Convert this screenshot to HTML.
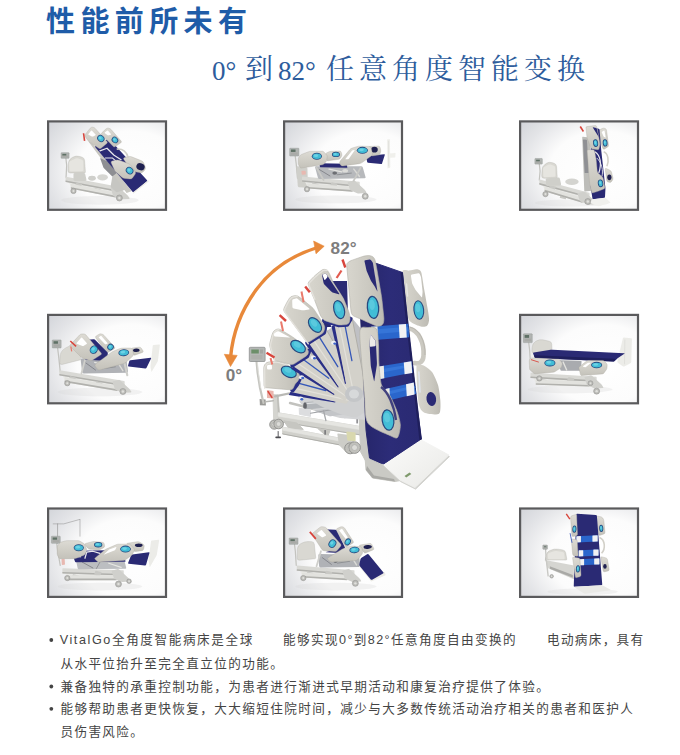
<!DOCTYPE html>
<html lang="zh"><head><meta charset="utf-8"><title>性能前所未有</title>
<style>
html,body{margin:0;padding:0;background:#fff}
body{width:680px;height:755px;position:relative;overflow:hidden;font-family:"Liberation Sans","Noto Sans CJK SC",sans-serif}
.art{position:absolute;left:0;top:0;width:680px;height:755px;display:block}
</style></head><body>
<svg class="art" viewBox="0 0 680 755" width="680" height="755">
<defs>
<radialGradient id="tbg" cx="0.7" cy="0.56" r="0.9">
<stop offset="0" stop-color="#fff"/><stop offset="0.5" stop-color="#fcfcfc"/><stop offset="0.78" stop-color="#e3e4e7"/><stop offset="1" stop-color="#d2d4d9"/></radialGradient>
<linearGradient id="trail" x1="0" y1="0" x2="0" y2="1"><stop offset="0" stop-color="#dddbd4"/><stop offset="1" stop-color="#c4c2ba"/></linearGradient>
<linearGradient id="railg" x1="0" y1="0" x2="1" y2="0">
<stop offset="0" stop-color="#d8d6ce"/><stop offset="0.6" stop-color="#cbc9c1"/><stop offset="1" stop-color="#bdbbb3"/></linearGradient>
<linearGradient id="navg" x1="0" y1="0" x2="1" y2="0">
<stop offset="0" stop-color="#252568"/><stop offset="0.5" stop-color="#2c2c78"/><stop offset="1" stop-color="#2a2a72"/></linearGradient>
<linearGradient id="footg" x1="0" y1="0" x2="1" y2="1">
<stop offset="0" stop-color="#fbfbfa"/><stop offset="1" stop-color="#e9e9e6"/></linearGradient>
</defs>
<text x="46" y="32" font-family="'Liberation Sans','Noto Sans CJK SC',sans-serif" font-weight="bold" font-size="29" letter-spacing="5.4" fill="#1f5ca8">性能前所未有</text>
<g fill="#2d5c9c" font-family="'Liberation Serif','Noto Serif CJK SC',serif">
<text x="212" y="79.5" font-size="27">0°</text>
<text x="245" y="78.5" font-size="28">到</text>
<text x="278" y="79.5" font-size="27">82°</text>
<text x="326" y="78.5" font-size="28" letter-spacing="5">任意角度智能变换</text>
</g>
<rect x="48.1" y="121.39999999999999" width="117.89999999999999" height="88.39999999999999" fill="url(#tbg)" stroke="#5a5a5c" stroke-width="2.2"/>
<g transform="translate(47 120.0) scale(0.17647)"><ellipse cx="300" cy="455" rx="220" ry="25" fill="#d4d4d4" opacity="0.28"/><polyline points="107,217 111.5,257 108,325" fill="none" stroke="#c3c3bf" stroke-width="7" stroke-linecap="round" stroke-linejoin="round"/><rect x="80" y="185" width="45" height="32" rx="3" fill="#b1b4b2" stroke="#8f9290" stroke-width="2.5"/><rect x="87" y="192" width="22.5" height="10.24" fill="#5f7166"/><rect x="87" y="202.6" width="31" height="9.6" fill="#a9aaa7"/><path d="M132,300Q118,300 118.7,286L120.8,247.4Q122,225 141.3,213.8L145.8,211.2Q165,200 186.2,206.8L198.7,210.7Q212,215 213,229L217.6,294Q218,300 212,300Z" fill="#d9d8d2" stroke="#b3b2ac" stroke-width="2"/><path d="M125.3,243Q125,235 132.3,231.8L162.7,218.2Q170,215 177.5,217.8L197.5,225.2Q205,228 205.3,236L206.7,282Q207,290 199,290.2L135,291.8Q127,292 126.7,284Z" fill="#e6e5e0"/><path d="M116.2,337.7Q115,335 117.9,335.6L422.1,394.4Q425,395 422.8,397.1L387.2,430.9Q385,433 382.1,432.4L139.9,383.6Q137,383 135.8,380.3Z" fill="#e9e9e6"/><path d="M105,324Q105,321 107.9,321.6L427.1,382.4Q430,383 430,386L430,410Q430,413 427.1,412.4L107.9,351.6Q105,351 105,348Z" fill="#d9d9d5"/><path d="M105,344Q105,342 107,342.4L428,403.6Q430,404 430,406L430,411Q430,413 428,412.6L107,351.4Q105,351 105,349Z" fill="#b1b1ad"/><path d="M163.8,357.8Q165,355 167.9,355.7L197.1,362.3Q200,363 198.8,365.8L191.2,384.2Q190,387 187.1,386.3L157.9,379.7Q155,379 156.2,376.2Z" fill="#c9c9c5"/><path d="M268.9,387.8Q270,385 272.9,385.7L302.1,392.3Q305,393 304,395.8L296,417.2Q295,420 292.1,419.3L262.9,411.7Q260,411 261.1,408.2Z" fill="#c9c9c5"/><path d="M135,364Q135,361 137.9,361.6L387.1,410.4Q390,411 390,414L390,436Q390,439 387.1,438.4L137.9,389.6Q135,389 135,386Z" fill="#e2e2de"/><path d="M135,382Q135,380 137,380.4L388,429.6Q390,430 390,432L390,437Q390,439 388,438.6L137,389.4Q135,389 135,387Z" fill="#b1b1ad"/><path d="M361.6,389.7Q360,385 364.9,383.8L395.1,376.2Q400,375 403.7,378.4L456.3,426.6Q460,430 462.5,434.3L467.5,442.7Q470,447 465,447.3L425,449.7Q420,450 415.4,448L379.6,432Q375,430 373.4,425.3Z" fill="#d0d0cc"/><ellipse cx="150" cy="402" rx="15" ry="15" fill="#bcbcb8" stroke="#8f8f8c" stroke-width="3"/><ellipse cx="150" cy="402" rx="6" ry="6" fill="#e0e0dc"/><ellipse cx="410" cy="442" rx="17" ry="17" fill="#bcbcb8" stroke="#8f8f8c" stroke-width="3"/><ellipse cx="410" cy="442" rx="6.8" ry="6.8" fill="#e0e0dc"/><path d="M150,308Q150,300 158,300L207,300Q215,300 216.7,307.8L223.3,337.2Q225,345 217,345L158,345Q150,345 150,337Z" fill="#cfcfca"/><ellipse cx="255" cy="330" rx="22" ry="14" fill="#cfcfcb"/><ellipse cx="315" cy="325" rx="30" ry="18" fill="#d6d6d2"/><path d="M374,295.9Q375,290 380.9,291.3L414.1,298.7Q420,300 421.5,305.8L443.5,389.2Q445,395 439.3,396.7L400.7,408.3Q395,410 390.4,406.1L364.6,383.9Q360,380 361,374.1Z" fill="#c6c6c2"/><path d="M233.8,120.4Q232,118 234.5,119.7L259.5,136.3Q262,138 263.9,140.3L478.1,400.7Q480,403 477.2,404.1L454.8,412.9Q452,414 450.2,411.6Z" fill="#c9c8c2"/><path d="M301.4,218.8Q300,215 303.7,216.6L341.3,233.4Q345,235 347.4,238.2L392.6,296.8Q395,300 391.9,302.5L373.1,317.5Q370,320 367.2,317.2L322.8,272.8Q320,270 318.6,266.2Z" fill="#8e8f93"/><path d="M273.9,154.6Q270,150 275.2,147.1L344.8,107.9Q350,105 354.1,109.4L565.9,340.6Q570,345 565.4,348.9L494.6,408.1Q490,412 486.1,407.4Z" fill="#2a2a74"/><polyline points="300,175 340,160 380,200 420,225" fill="none" stroke="#e9e9ee" stroke-width="7" stroke-linecap="round" stroke-linejoin="round"/><polyline points="330,215 370,215 410,250" fill="none" stroke="#e9e9ee" stroke-width="6" stroke-linecap="round" stroke-linejoin="round"/><path d="M435.5,223.3Q430,215 439.7,212.6L460.3,207.4Q470,205 479.3,208.7L535.7,231.3Q545,235 548.5,244.4L556.5,265.6Q560,275 553.8,282.8L546.2,292.2Q540,300 530.1,298.4L489.9,291.6Q480,290 474.5,281.7Z" fill="url(#trail)" stroke="#a9a79f" stroke-width="2"/><ellipse cx="530" cy="265" rx="24" ry="20" fill="#1f2050" transform="rotate(20 530 265)"/><path d="M395,165 C430,160 455,185 460,215" fill="none" stroke="#d2d0c8" stroke-width="9"/><path d="M310.6,83.7Q305,78 310.8,72.5L334.2,50.5Q340,45 347.9,46.3L350.1,46.7Q358,48 363.3,54L419.7,119Q425,125 418.3,129.4L386.7,150.6Q380,155 374.4,149.3Z" fill="url(#trail)" stroke="#a9a79f" stroke-width="2"/><path d="M328.1,74.5Q325,72 328.2,69.5L339.8,60.5Q343,58 345.7,60.9L362.3,79.1Q365,82 361.2,83.1L348.8,86.9Q345,88 341.9,85.5Z" fill="#fff"/><ellipse cx="385" cy="113" rx="19.8" ry="17.1" fill="#27497f" transform="rotate(40 385 113)"/><ellipse cx="385" cy="113" rx="15.3" ry="12.6" fill="#42bdd6" transform="rotate(40 385 113)"/><ellipse cx="381.9" cy="110.5" rx="7.7" ry="6.3" fill="#8be0ee" transform="rotate(40 381.9 110.5)" opacity="0.6"/><path d="M216.7,94.5Q212,88 217,81.7L245,46.3Q250,40 258,40.9L260,41.1Q268,42 273.3,48L339.7,122Q345,128 338.8,133.1L306.2,159.9Q300,165 293.4,160.4L241.6,124.6Q235,120 230.3,113.5Z" fill="url(#trail)" stroke="#a9a79f" stroke-width="2"/><path d="M235.6,83.8Q232,82 234.6,78.9L249.4,61.1Q252,58 254.8,60.9L275.2,82.1Q278,85 274.4,86.8L261.6,93.2Q258,95 254.4,93.2Z" fill="#fff"/><ellipse cx="305" cy="105" rx="21.6" ry="18.9" fill="#27497f" transform="rotate(40 305 105)"/><ellipse cx="305" cy="105" rx="17.1" ry="14.4" fill="#42bdd6" transform="rotate(40 305 105)"/><ellipse cx="301.6" cy="102.1" rx="8.6" ry="7.2" fill="#8be0ee" transform="rotate(40 301.6 102.1)" opacity="0.6"/><path d="M364.1,244.1Q360,235 369.7,232.6L390.3,227.4Q400,225 409.4,228.4L460.6,246.6Q470,250 475.7,258.2L499.3,291.8Q505,300 499.2,308.1L485.8,326.9Q480,335 470,334L440,331Q430,330 422.5,323.4L392.5,296.6Q385,290 380.9,280.9Z" fill="url(#trail)" stroke="#a9a79f" stroke-width="2"/><ellipse cx="468" cy="287" rx="22.5" ry="19.8" fill="#27497f" transform="rotate(40 468 287)"/><ellipse cx="468" cy="287" rx="18" ry="15.3" fill="#42bdd6" transform="rotate(40 468 287)"/><ellipse cx="464.4" cy="283.9" rx="9" ry="7.7" fill="#8be0ee" transform="rotate(40 464.4 283.9)" opacity="0.6"/><polyline points="490,412 572,347" fill="none" stroke="#ecebe6" stroke-width="8" stroke-linecap="round" stroke-linejoin="round"/><polyline points="207,75 213,118" fill="none" stroke="#d8453c" stroke-width="9" stroke-linecap="butt" stroke-linejoin="round"/></g>
<rect x="284.1" y="121.39999999999999" width="117.89999999999999" height="88.39999999999999" fill="url(#tbg)" stroke="#5a5a5c" stroke-width="2.2"/>
<g transform="translate(283 120.0) scale(0.17647)"><ellipse cx="300" cy="450" rx="230" ry="22" fill="#d4d4d4" opacity="0.28"/><polyline points="69.2,204 74.4,244 82,330" fill="none" stroke="#c3c3bf" stroke-width="7" stroke-linecap="round" stroke-linejoin="round"/><rect x="38" y="160" width="52" height="44" rx="3" fill="#b1b4b2" stroke="#8f9290" stroke-width="2.5"/><rect x="45" y="167" width="26.0" height="14.08" fill="#5f7166"/><rect x="45" y="184.2" width="38" height="13.2" fill="#a9aaa7"/><path d="M76.4,268Q76,262 82,262.6L132,267.4Q138,268 138.2,274L141.8,379Q142,385 136,384.5L90,380.5Q84,380 83.6,374Z" fill="#cfcfca"/><path d="M119.2,336.7Q118,334 121,334.3L427,361.7Q430,362 427.8,364.1L392.2,397.9Q390,400 387,399.8L143,382.2Q140,382 138.8,379.3Z" fill="#e9e9e6"/><path d="M108,323Q108,320 111,320.3L432,349.7Q435,350 435,353L435,377Q435,380 432,379.7L111,350.3Q108,350 108,347Z" fill="#d9d9d5"/><path d="M108,343Q108,341 110,341.2L433,370.8Q435,371 435,373L435,378Q435,380 433,379.8L110,350.2Q108,350 108,348Z" fill="#b1b1ad"/><path d="M166.8,356.8Q168,354 170.9,354.7L200.1,361.3Q203,362 201.8,364.8L194.2,383.2Q193,386 190.1,385.3L160.9,378.7Q158,378 159.2,375.2Z" fill="#c9c9c5"/><path d="M273.9,354.8Q275,352 277.9,352.7L307.1,359.3Q310,360 309,362.8L301,384.2Q300,387 297.1,386.3L267.9,378.7Q265,378 266.1,375.2Z" fill="#c9c9c5"/><path d="M138,363Q138,360 141,360.2L392,377.8Q395,378 395,381L395,403Q395,406 392,405.8L141,388.2Q138,388 138,385Z" fill="#e2e2de"/><path d="M138,381Q138,379 140,379.1L393,396.9Q395,397 395,399L395,404Q395,406 393,405.9L140,388.1Q138,388 138,386Z" fill="#b1b1ad"/><path d="M366.6,356.7Q365,352 369.9,350.8L400.1,343.2Q405,342 408.7,345.4L461.3,393.6Q465,397 467.5,401.3L472.5,409.7Q475,414 470,414.3L430,416.7Q425,417 420.4,415L384.6,399Q380,397 378.4,392.3Z" fill="#d0d0cc"/><ellipse cx="136" cy="392" rx="15" ry="15" fill="#bcbcb8" stroke="#8f8f8c" stroke-width="3"/><ellipse cx="136" cy="392" rx="6" ry="6" fill="#e0e0dc"/><ellipse cx="466" cy="432" rx="17" ry="17" fill="#bcbcb8" stroke="#8f8f8c" stroke-width="3"/><ellipse cx="466" cy="432" rx="6.8" ry="6.8" fill="#e0e0dc"/><path d="M182.1,269.7Q180,262 188,262L442,262Q450,262 452.3,269.7L467.7,322.3Q470,330 462,330.1L208,334.9Q200,335 197.9,327.3Z" fill="#b7b9bc"/><path d="M104.3,291Q104,288 107,287.9L125,287.1Q128,287 128.3,290L129.7,305Q130,308 127,308.2L109,309.8Q106,310 105.7,307Z" fill="#e8b8b0"/><polyline points="206.6,281.2 266,317" fill="none" stroke="#7f8186" stroke-width="5" stroke-linecap="round" stroke-linejoin="round"/><polyline points="260.6,278 333.5,294.2" fill="none" stroke="#e4e4e1" stroke-width="7" stroke-linecap="round" stroke-linejoin="round"/><polyline points="306.5,310.5 387.5,300.8" fill="none" stroke="#8a8c90" stroke-width="5" stroke-linecap="round" stroke-linejoin="round"/><ellipse cx="293" cy="300.8" rx="13.5" ry="9.1" fill="#6d6f74"/><ellipse cx="352.4" cy="287.8" rx="16.2" ry="10.4" fill="#dcdcd9"/><polyline points="401,278 433.4,320.2" fill="none" stroke="#dadad6" stroke-width="8" stroke-linecap="round" stroke-linejoin="round"/><polyline points="190,270 230,340" fill="none" stroke="#c9c9c5" stroke-width="10" stroke-linecap="round" stroke-linejoin="round"/><polyline points="440,270 400,345" fill="none" stroke="#c9c9c5" stroke-width="10" stroke-linecap="round" stroke-linejoin="round"/><path d="M590,113Q590,110 593,109.6L603,108.4Q606,108 606,111L608,267Q608,270 605.1,270.9L594.9,274.1Q592,275 592,272Z" fill="#eeeeea"/><polyline points="598,120 598,260" fill="none" stroke="#cfcfcb" stroke-width="2" stroke-linecap="round" stroke-linejoin="round"/><path d="M600.2,193Q600,190 603,189.7L635,186.3Q638,186 637.8,189L636.2,209Q636,212 633,212.2L605,213.8Q602,214 601.8,211Z" fill="#f0f0ec"/><path d="M205.6,247.9Q205,245 208,245.1L357,247.9Q360,248 360.7,250.9L364.3,267.1Q365,270 362,270L213,268Q210,268 209.4,265.1Z" fill="#2a2a74"/><path d="M470.8,208.9Q470,205 474,204.6L574,194.4Q578,194 576.8,197.8L561.2,246.2Q560,250 556,249.6L482,242.4Q478,242 477.2,238.1Z" fill="#2a2a74"/><path d="M241.5,197.9Q240,190 247.2,186.5L257.8,181.5Q265,178 273,177.7L320,176.3Q328,176 330.2,183.7L332.8,192.3Q335,200 330.9,206.9L326.1,215.1Q322,222 314.1,223.1L255.9,230.9Q248,232 246.5,224.1Z" fill="url(#trail)" stroke="#a9a79f" stroke-width="2"/><ellipse cx="300" cy="195" rx="22.5" ry="15.3" fill="#27497f"/><ellipse cx="300" cy="195" rx="18" ry="10.8" fill="#42bdd6"/><ellipse cx="296.4" cy="192.8" rx="9" ry="5.4" fill="#8be0ee" opacity="0.6"/><path d="M487.1,157.7Q485,150 493,149.7L540,148.3Q548,148 550,155.7L553,167.3Q555,175 552.7,182.7L550.3,190.3Q548,198 540.1,199L507.9,203Q500,204 497.9,196.3Z" fill="url(#trail)" stroke="#a9a79f" stroke-width="2"/><ellipse cx="518" cy="168" rx="19" ry="16" fill="#1f2050"/><path d="M87,220Q87,215 89.9,210.9L97.1,201.1Q100,197 104.7,195.2L145.3,179.8Q150,178 155,177.9L223,177.1Q228,177 231.3,180.7L248.7,200.3Q252,204 251,208.9L247,229.1Q246,234 242.6,237.6L231.4,249.4Q228,253 223.1,253.8L104.9,272.2Q100,273 97.4,268.7L89.6,256.3Q87,252 87,247Z" fill="url(#trail)" stroke="#a9a79f" stroke-width="2"/><ellipse cx="192" cy="205" rx="28.8" ry="19.8" fill="#27497f"/><ellipse cx="192" cy="205" rx="24.3" ry="15.3" fill="#42bdd6"/><ellipse cx="187.1" cy="201.9" rx="12.2" ry="7.7" fill="#8be0ee" opacity="0.6"/><path d="M322.8,248.8Q318,240 324.4,232.3L376.6,169.7Q383,162 392.5,159L418.5,151Q428,148 438,148.3L488,149.7Q498,150 500,159.8L506,188.2Q508,198 499.9,203.9L450.1,240.1Q442,246 432.1,247.4L339.9,260.6Q330,262 325.2,253.2Z" fill="url(#trail)" stroke="#a9a79f" stroke-width="2"/><path d="M356,222Q352,222 354.5,218.9L389.5,175.1Q392,172 396,171.5L404,170.5Q408,170 405.7,173.3L374.3,218.7Q372,222 368,222Z" fill="#fff"/><ellipse cx="450" cy="172" rx="31.5" ry="19.8" fill="#27497f"/><ellipse cx="450" cy="172" rx="27" ry="15.3" fill="#42bdd6"/><ellipse cx="444.6" cy="168.9" rx="13.5" ry="7.7" fill="#8be0ee" opacity="0.6"/></g>
<rect x="520.1" y="121.39999999999999" width="117.89999999999999" height="88.39999999999999" fill="url(#tbg)" stroke="#5a5a5c" stroke-width="2.2"/>
<g transform="translate(519 120.0) scale(0.17647)"><ellipse cx="300" cy="470" rx="210" ry="20" fill="#d4d4d4" opacity="0.28"/><polyline points="115.2,250 119.4,290 115,340" fill="none" stroke="#c3c3bf" stroke-width="7" stroke-linecap="round" stroke-linejoin="round"/><rect x="90" y="218" width="42" height="32" rx="3" fill="#b1b4b2" stroke="#8f9290" stroke-width="2.5"/><rect x="97" y="225" width="21.0" height="10.24" fill="#5f7166"/><rect x="97" y="235.6" width="28" height="9.6" fill="#a9aaa7"/><path d="M142,330Q128,330 128.8,316L130.8,282.9Q132,262 149.1,249.8L153.6,246.6Q170,235 188.9,241.8L198.8,245.3Q212,250 212.9,264L216.6,324Q217,330 211,330Z" fill="#d9d8d2" stroke="#b3b2ac" stroke-width="2"/><path d="M136.3,278Q136,270 143,266.1L165,253.9Q172,250 179.5,252.7L197.5,259.3Q205,262 205.3,270L206.7,314Q207,322 199,322.2L146,323.8Q138,324 137.7,316Z" fill="#e6e5e0"/><path d="M126.2,352.7Q125,350 127.9,350.8L392.1,424.2Q395,425 392.8,427.1L357.2,460.9Q355,463 352.1,462.1L149.9,398.9Q147,398 145.8,395.3Z" fill="#e9e9e6"/><path d="M115,339Q115,336 117.9,336.8L397.1,412.2Q400,413 400,416L400,440Q400,443 397.1,442.2L117.9,366.8Q115,366 115,363Z" fill="#d9d9d5"/><path d="M115,359Q115,357 116.9,357.5L398.1,433.5Q400,434 400,436L400,441Q400,443 398.1,442.5L116.9,366.5Q115,366 115,364Z" fill="#b1b1ad"/><path d="M173.8,372.8Q175,370 177.9,370.7L207.1,377.3Q210,378 208.8,380.8L201.2,399.2Q200,402 197.1,401.3L167.9,394.7Q165,394 166.2,391.2Z" fill="#c9c9c5"/><path d="M238.9,417.8Q240,415 242.9,415.7L272.1,422.3Q275,423 274,425.8L266,447.2Q265,450 262.1,449.3L232.9,441.7Q230,441 231.1,438.2Z" fill="#c9c9c5"/><path d="M145,379Q145,376 147.9,376.9L357.1,440.1Q360,441 360,444L360,466Q360,469 357.1,468.1L147.9,404.9Q145,404 145,401Z" fill="#e2e2de"/><path d="M145,397Q145,395 146.9,395.6L358.1,459.4Q360,460 360,462L360,467Q360,469 358.1,468.4L146.9,404.6Q145,404 145,402Z" fill="#b1b1ad"/><path d="M331.6,419.7Q330,415 334.9,413.8L365.1,406.2Q370,405 373.7,408.4L426.3,456.6Q430,460 432.5,464.3L437.5,472.7Q440,477 435,477.3L395,479.7Q390,480 385.4,478L349.6,462Q345,460 343.4,455.3Z" fill="#d0d0cc"/><ellipse cx="150" cy="420" rx="15" ry="15" fill="#bcbcb8" stroke="#8f8f8c" stroke-width="3"/><ellipse cx="150" cy="420" rx="6" ry="6" fill="#e0e0dc"/><ellipse cx="390" cy="462" rx="17" ry="17" fill="#bcbcb8" stroke="#8f8f8c" stroke-width="3"/><ellipse cx="390" cy="462" rx="6.8" ry="6.8" fill="#e0e0dc"/><path d="M150.9,338Q150,330 158,329.5L222,325.5Q230,325 231.7,332.8L238.3,362.2Q240,370 232,370.5L163,374.5Q155,375 154.1,367Z" fill="#cfcfca"/><ellipse cx="300" cy="350" rx="38" ry="18" fill="#d4d4d0"/><path d="M358.2,99Q358,95 362,95.5L396,99.5Q400,100 400.2,104L414.8,396Q415,400 411,400.4L374,404.6Q370,405 369.8,401Z" fill="#bdbdb9"/><path d="M362.2,113Q362,110 365,110.3L382,111.7Q385,112 385.2,115L394.8,297Q395,300 392,300L375,300Q372,300 371.8,297Z" fill="#8f9094"/><path d="M453,65.9Q452,58 459.2,54.4L470.9,48.6Q478,45 485.6,47.2L487.4,47.8Q495,50 496,57.9L507,142.1Q508,150 501.1,154.1L484.9,163.9Q478,168 475.2,160.5L462.8,127.5Q460,120 459,112.1Z" fill="url(#trail)" stroke="#a9a79f" stroke-width="2"/><path d="M469.2,70.7Q468,68 470.5,66.4L481.5,59.6Q484,58 484.6,60.9L491.4,97.1Q492,100 489.2,98.8L482.8,96.2Q480,95 478.8,92.3Z" fill="#fff"/><ellipse cx="488" cy="130" rx="13.5" ry="20.7" fill="#27497f" transform="rotate(-5 488 130)"/><ellipse cx="488" cy="130" rx="9" ry="16.2" fill="#42bdd6" transform="rotate(-5 488 130)"/><ellipse cx="486.2" cy="126.8" rx="4.5" ry="8.1" fill="#8be0ee" transform="rotate(-5 486.2 126.8)" opacity="0.6"/><path d="M480,180 C505,190 512,230 498,262" fill="none" stroke="#d2d0c8" stroke-width="9"/><path d="M489,279.9Q488,272 495.2,275.4L514.8,284.6Q522,288 524,295.8L532,327.2Q534,335 529.4,341.6L524.6,348.4Q520,355 512.2,353.2L505.8,351.8Q498,350 497,342.1Z" fill="url(#trail)" stroke="#a9a79f" stroke-width="2"/><ellipse cx="512" cy="325" rx="12" ry="16" fill="#1f2050"/><path d="M411.8,45Q412,40 416.9,41.1L451.1,48.9Q456,50 456.4,55L465.6,167Q466,172 466.6,177L489.4,382Q490,387 489.7,392L487.3,437Q487,442 482,442.6L422,449.4Q417,450 416.2,445.1L403.8,363.9Q403,359 403.1,354L404.9,205Q405,200 405.2,195Z" fill="#2a2a74"/><path d="M430,180 C462,200 470,250 452,300" fill="none" stroke="#e9e9ee" stroke-width="7"/><path d="M440,215 C470,240 478,290 470,320" fill="none" stroke="#e9e9ee" stroke-width="5"/><path d="M379.6,44Q379,38 385,37.3L432,31.7Q438,31 439.6,36.8L444.4,54.2Q446,60 447,65.9L458,132.1Q459,138 457.7,143.9L453.3,163.1Q452,169 446.1,168.2L415.9,163.8Q410,163 407.7,157.4L388.3,109.6Q386,104 385.4,98Z" fill="url(#trail)" stroke="#a9a79f" stroke-width="2"/><path d="M418.1,42.7Q417,41 419,41.4L438,45.6Q440,46 440.5,47.9L451.5,95.1Q452,97 450.9,95.3Z" fill="#2a2a74"/><ellipse cx="434" cy="131" rx="14.4" ry="21.6" fill="#27497f" transform="rotate(-8 434 131)"/><ellipse cx="434" cy="131" rx="9.9" ry="17.1" fill="#42bdd6" transform="rotate(-8 434 131)"/><ellipse cx="432" cy="127.6" rx="5" ry="8.6" fill="#8be0ee" transform="rotate(-8 432 127.6)" opacity="0.6"/><path d="M386.6,176Q386,168 394,168.2L419,168.8Q427,169 428.5,176.9L436.5,220.1Q438,228 438.7,236L443.3,289Q444,297 450,302.3L470,319.7Q476,325 477.5,332.9L486.5,379.1Q488,387 480.7,390.3L462.3,398.7Q455,402 447.4,404.4L420.6,412.6Q413,415 411.2,407.2L401.8,366.8Q400,359 399.4,351Z" fill="url(#trail)" stroke="#a9a79f" stroke-width="2"/><ellipse cx="462" cy="359" rx="15.3" ry="21.6" fill="#27497f" transform="rotate(-8 462 359)"/><ellipse cx="462" cy="359" rx="10.8" ry="17.1" fill="#42bdd6" transform="rotate(-8 462 359)"/><ellipse cx="459.8" cy="355.6" rx="5.4" ry="8.6" fill="#8be0ee" transform="rotate(-8 459.8 355.6)" opacity="0.6"/><path d="M411.5,453.7Q413,450 417,449.5L484,440.5Q488,440 491,442.6L517,465.4Q520,468 516.2,469.2L453.8,488.8Q450,490 446.3,488.4L408.7,471.6Q405,470 406.5,466.3Z" fill="#f1f1ee"/><polyline points="347,37 365,65" fill="none" stroke="#d8453c" stroke-width="9" stroke-linecap="butt" stroke-linejoin="round"/></g>
<rect x="48.1" y="314.90000000000003" width="117.89999999999999" height="88.39999999999999" fill="url(#tbg)" stroke="#5a5a5c" stroke-width="2.2"/>
<g transform="translate(47 313.5) scale(0.17647)"><ellipse cx="300" cy="445" rx="240" ry="24" fill="#d4d4d4" opacity="0.28"/><polyline points="60,195 65,235 75,330" fill="none" stroke="#c3c3bf" stroke-width="7" stroke-linecap="round" stroke-linejoin="round"/><rect x="30" y="150" width="50" height="45" rx="3" fill="#b1b4b2" stroke="#8f9290" stroke-width="2.5"/><rect x="37" y="157" width="25.0" height="14.4" fill="#5f7166"/><rect x="37" y="174.75" width="36" height="13.5" fill="#a9aaa7"/><path d="M81.2,337.7Q80,335 83,335.5L432,394.5Q435,395 432.8,397.1L397.2,430.9Q395,433 392,432.5L105,383.5Q102,383 100.8,380.3Z" fill="#e9e9e6"/><path d="M70,324Q70,321 73,321.5L437,382.5Q440,383 440,386L440,410Q440,413 437,412.5L73,351.5Q70,351 70,348Z" fill="#d9d9d5"/><path d="M70,344Q70,342 72,342.3L438,403.7Q440,404 440,406L440,411Q440,413 438,412.7L72,351.3Q70,351 70,349Z" fill="#b1b1ad"/><path d="M128.8,357.8Q130,355 132.9,355.7L162.1,362.3Q165,363 163.8,365.8L156.2,384.2Q155,387 152.1,386.3L122.9,379.7Q120,379 121.2,376.2Z" fill="#c9c9c5"/><path d="M278.9,387.8Q280,385 282.9,385.7L312.1,392.3Q315,393 314,395.8L306,417.2Q305,420 302.1,419.3L272.9,411.7Q270,411 271.1,408.2Z" fill="#c9c9c5"/><path d="M100,364Q100,361 103,361.5L397,410.5Q400,411 400,414L400,436Q400,439 397,438.5L103,389.5Q100,389 100,386Z" fill="#e2e2de"/><path d="M100,382Q100,380 102,380.3L398,429.7Q400,430 400,432L400,437Q400,439 398,438.7L102,389.3Q100,389 100,387Z" fill="#b1b1ad"/><path d="M371.6,389.7Q370,385 374.9,383.8L405.1,376.2Q410,375 413.7,378.4L466.3,426.6Q470,430 472.5,434.3L477.5,442.7Q480,447 475,447.3L435,449.7Q430,450 425.4,448L389.6,432Q385,430 383.4,425.3Z" fill="#d0d0cc"/><ellipse cx="115" cy="395" rx="15" ry="15" fill="#bcbcb8" stroke="#8f8f8c" stroke-width="3"/><ellipse cx="115" cy="395" rx="6" ry="6" fill="#e0e0dc"/><ellipse cx="430" cy="442" rx="17" ry="17" fill="#bcbcb8" stroke="#8f8f8c" stroke-width="3"/><ellipse cx="430" cy="442" rx="6.8" ry="6.8" fill="#e0e0dc"/><path d="M85.6,288.6Q72,292 72.5,278L73.9,244.3Q75,215 99.8,199.2L108.1,193.9Q130,180 155.2,173.7L172.4,169.4Q186,166 186.9,180L191.6,256Q192,262 186.2,263.5Z" fill="#d9d8d2" stroke="#b3b2ac" stroke-width="2"/><path d="M190.9,262.9Q190,255 198,255.2L442,261.8Q450,262 451.1,269.9L458.9,327.1Q460,335 452,335.2L208,339.8Q200,340 199.1,332.1Z" fill="#b0b2b6"/><polyline points="220,280.2 275,320.4" fill="none" stroke="#7f8186" stroke-width="5" stroke-linecap="round" stroke-linejoin="round"/><polyline points="270,276.6 337.5,294.9" fill="none" stroke="#e4e4e1" stroke-width="7" stroke-linecap="round" stroke-linejoin="round"/><polyline points="312.5,313.1 387.5,302.1" fill="none" stroke="#8a8c90" stroke-width="5" stroke-linecap="round" stroke-linejoin="round"/><ellipse cx="300" cy="302.1" rx="12.5" ry="10.2" fill="#6d6f74"/><ellipse cx="355" cy="287.6" rx="15" ry="11.7" fill="#dcdcd9"/><polyline points="400,276.6 430,324.1" fill="none" stroke="#dadad6" stroke-width="8" stroke-linecap="round" stroke-linejoin="round"/><polyline points="215,265 195,340" fill="none" stroke="#cfcfcb" stroke-width="10" stroke-linecap="round" stroke-linejoin="round"/><polyline points="440,285 455,350" fill="none" stroke="#cfcfcb" stroke-width="12" stroke-linecap="round" stroke-linejoin="round"/><path d="M599.5,182Q600,178 604,177.8L636,176.2Q640,176 639.5,180L628.5,268Q628,272 625.9,275.4L594.1,328.6Q592,332 591.3,328.1L586.7,303.9Q586,300 586.5,296Z" fill="#ecece8"/><path d="M466.6,269.8Q468,265 473,264.4L587,250.6Q592,250 589.8,254.5L564.2,307.5Q562,312 557,311.4L463,300.6Q458,300 459.4,295.2Z" fill="#2a2a74"/><path d="M480.5,203.6Q478,196 485.9,195.1L522.1,190.9Q530,190 534.3,196.7L543.7,211.3Q548,218 540.5,220.7L499.5,235.3Q492,238 489.5,230.4Z" fill="url(#trail)" stroke="#a9a79f" stroke-width="2"/><ellipse cx="506" cy="208" rx="19" ry="10" fill="#1f2050" transform="rotate(-5 506 208)"/><path d="M276.8,138.4Q272,132 278.7,127.7L293.3,118.3Q300,114 307.8,115.7L310.2,116.3Q318,118 323.3,124L382.7,190Q388,196 381.1,200L346.9,220Q340,224 335.2,217.6Z" fill="url(#trail)" stroke="#a9a79f" stroke-width="2"/><path d="M294.1,137.2Q292,135 294.5,133.4L303.5,127.6Q306,126 308,128.2L343,167.8Q345,170 342.2,170.9L332.8,174.1Q330,175 327.9,172.8Z" fill="#fff"/><ellipse cx="360" cy="190" rx="18" ry="18.9" fill="#27497f" transform="rotate(40 360 190)"/><ellipse cx="360" cy="190" rx="13.5" ry="14.4" fill="#42bdd6" transform="rotate(40 360 190)"/><ellipse cx="357.3" cy="187.1" rx="6.8" ry="7.2" fill="#8be0ee" transform="rotate(40 357.3 187.1)" opacity="0.6"/><path d="M207.1,153.4Q205,150 209,149.7L264,145.3Q268,145 270.8,147.8L342.2,219.2Q345,222 344.6,226L340.4,264Q340,268 336,267.8L219,262.2Q215,262 218.1,259.5L251.9,232.5Q255,230 252.9,226.6Z" fill="#2a2a74"/><path d="M133.7,187.7Q128,182 133.5,176.2L184.5,121.8Q190,116 198,116L208,116Q216,116 221.2,122.1L306.8,223.9Q312,230 305.2,234.3L258.8,263.7Q252,268 244.3,265.7L205.7,254.3Q198,252 192.3,246.3Z" fill="url(#trail)" stroke="#a9a79f" stroke-width="2"/><path d="M168.7,171.4Q165,170 167.7,167L193.3,138Q196,135 198.7,138L225.3,167Q228,170 224.6,172.2L208.4,182.8Q205,185 201.3,183.6Z" fill="#fff"/><ellipse cx="265" cy="205" rx="21.6" ry="25.2" fill="#27497f" transform="rotate(40 265 205)"/><ellipse cx="265" cy="205" rx="17.1" ry="20.7" fill="#42bdd6" transform="rotate(40 265 205)"/><ellipse cx="261.6" cy="200.9" rx="8.6" ry="10.3" fill="#8be0ee" transform="rotate(40 261.6 200.9)" opacity="0.6"/><path d="M273.9,300.1Q268,292 276,286L362,222Q370,216 379.3,212.3L410.7,199.7Q420,196 430,196L472,196Q482,196 484.4,205.7L489.6,226.3Q492,236 484.6,242.8L449.4,275.2Q442,282 432.3,284.5L299.7,319.5Q290,322 284.1,313.9Z" fill="url(#trail)" stroke="#a9a79f" stroke-width="2"/><ellipse cx="435" cy="222" rx="30.6" ry="19.8" fill="#27497f" transform="rotate(-5 435 222)"/><ellipse cx="435" cy="222" rx="26.1" ry="15.3" fill="#42bdd6" transform="rotate(-5 435 222)"/><ellipse cx="429.8" cy="218.9" rx="13.1" ry="7.7" fill="#8be0ee" transform="rotate(-5 429.8 218.9)" opacity="0.6"/><polyline points="132,156 165,186" fill="none" stroke="#d8453c" stroke-width="9" stroke-linecap="butt" stroke-linejoin="round"/><polyline points="135,188 140,215" fill="none" stroke="#e9796b" stroke-width="7" stroke-linecap="butt" stroke-linejoin="round"/></g>
<rect x="520.1" y="314.90000000000003" width="117.89999999999999" height="88.39999999999999" fill="url(#tbg)" stroke="#5a5a5c" stroke-width="2.2"/>
<g transform="translate(519 313.5) scale(0.17647)"><ellipse cx="290" cy="430" rx="240" ry="22" fill="#d4d4d4" opacity="0.28"/><polyline points="55,165 60,205 65,285" fill="none" stroke="#c3c3bf" stroke-width="7" stroke-linecap="round" stroke-linejoin="round"/><rect x="25" y="115" width="50" height="50" rx="3" fill="#b1b4b2" stroke="#8f9290" stroke-width="2.5"/><rect x="32" y="122" width="25.0" height="16.0" fill="#5f7166"/><rect x="32" y="142.5" width="36" height="15.0" fill="#a9aaa7"/><path d="M86,225Q72,225 73,211L74.5,190.8Q76,170 93.5,158.8L97.5,156.2Q115,145 135.4,149.4L171.3,157.1Q185,160 185.6,174L187.7,219Q188,225 182,225Z" fill="#d9d8d2" stroke="#b3b2ac" stroke-width="2"/><path d="M76.2,352.7Q75,350 78,350.2L432,369.8Q435,370 432.8,372.1L397.2,405.9Q395,408 392,407.9L100,398.1Q97,398 95.8,395.3Z" fill="#e9e9e6"/><path d="M65,339Q65,336 68,336.2L437,357.8Q440,358 440,361L440,385Q440,388 437,387.8L68,366.2Q65,366 65,363Z" fill="#d9d9d5"/><path d="M65,359Q65,357 67,357.1L438,378.9Q440,379 440,381L440,386Q440,388 438,387.9L67,366.1Q65,366 65,364Z" fill="#b1b1ad"/><path d="M123.8,372.8Q125,370 127.9,370.7L157.1,377.3Q160,378 158.8,380.8L151.2,399.2Q150,402 147.1,401.3L117.9,394.7Q115,394 116.2,391.2Z" fill="#c9c9c5"/><path d="M278.9,362.8Q280,360 282.9,360.7L312.1,367.3Q315,368 314,370.8L306,392.2Q305,395 302.1,394.3L272.9,386.7Q270,386 271.1,383.2Z" fill="#c9c9c5"/><path d="M95,379Q95,376 98,376.1L397,385.9Q400,386 400,389L400,411Q400,414 397,413.9L98,404.1Q95,404 95,401Z" fill="#e2e2de"/><path d="M95,397Q95,395 97,395.1L398,404.9Q400,405 400,407L400,412Q400,414 398,413.9L97,404.1Q95,404 95,402Z" fill="#b1b1ad"/><path d="M371.6,364.7Q370,360 374.9,358.8L405.1,351.2Q410,350 413.7,353.4L466.3,401.6Q470,405 472.5,409.3L477.5,417.7Q480,422 475,422.3L435,424.7Q430,425 425.4,423L389.6,407Q385,405 383.4,400.3Z" fill="#d0d0cc"/><ellipse cx="115" cy="368" rx="15" ry="15" fill="#bcbcb8" stroke="#8f8f8c" stroke-width="3"/><ellipse cx="115" cy="368" rx="6" ry="6" fill="#e0e0dc"/><ellipse cx="440" cy="440" rx="17" ry="17" fill="#bcbcb8" stroke="#8f8f8c" stroke-width="3"/><ellipse cx="440" cy="440" rx="6.8" ry="6.8" fill="#e0e0dc"/><ellipse cx="405" cy="395" rx="14" ry="14" fill="#bcbcb8" stroke="#8f8f8c" stroke-width="3"/><ellipse cx="405" cy="395" rx="5.6" ry="5.6" fill="#e0e0dc"/><path d="M226,270.9Q225,265 231,265.1L349,267.9Q355,268 354.5,274L350.5,319Q350,325 344,325L241,325Q235,325 234,319.1Z" fill="#a9abaf"/><polyline points="250,275 270,320" fill="none" stroke="#e2e2de" stroke-width="8" stroke-linecap="round" stroke-linejoin="round"/><path d="M588.8,140.9Q590,136 595,136.4L635,139.6Q640,140 639.9,145L636.1,275Q636,280 631.5,282.2L596.5,299.8Q592,302 587.9,299.1L560.1,278.9Q556,276 557.2,271.1Z" fill="#ecece8"/><polyline points="600,150 598,285" fill="none" stroke="#cfcfcb" stroke-width="2.5" stroke-linecap="round" stroke-linejoin="round"/><path d="M80.2,227.6Q78,222 83.9,221.1L179.1,205.9Q185,205 191,205.3L596,224.7Q602,225 597,228.4L561,252.6Q556,256 551.8,260.2L544.2,267.8Q540,272 534,271.7L96,252.3Q90,252 87.8,246.4Z" fill="#2a2a74"/><path d="M85.9,238.9Q85,236 88,236.1L542,255.9Q545,256 544.1,258.9L540.9,269.1Q540,272 537,271.9L93,252.1Q90,252 89.1,249.1Z" fill="#1f1f5c"/><path d="M58.2,268Q58,262 62.6,258.2L65.4,255.8Q70,252 76,252.3L222,258.7Q228,259 231.6,263.8L242.4,278.2Q246,283 244.5,288.8L241.5,300.2Q240,306 235,309.3L205,328.7Q200,332 194,332.5L94,341.5Q88,342 83.4,338.1L64.6,321.9Q60,318 59.8,312Z" fill="url(#trail)" stroke="#a9a79f" stroke-width="2"/><polyline points="70,262 110,275" fill="none" stroke="#d8453c" stroke-width="5" stroke-linecap="round" stroke-linejoin="round"/><ellipse cx="175" cy="280" rx="31.5" ry="19.8" fill="#27497f"/><ellipse cx="175" cy="280" rx="27" ry="15.3" fill="#42bdd6"/><ellipse cx="169.6" cy="276.9" rx="13.5" ry="7.7" fill="#8be0ee" opacity="0.6"/><path d="M339.5,310.8Q338,305 342.7,301.3L383.3,269.7Q388,266 394,266L474,266Q480,266 484,270.4L496,283.6Q500,288 499.5,294L498.5,308Q498,314 494.5,318.9L481.5,337.1Q478,342 472,342.5L356,351.5Q350,352 348.5,346.2Z" fill="url(#trail)" stroke="#a9a79f" stroke-width="2"/><path d="M363.9,301.1Q360,300 363.3,297.7L388.7,280.3Q392,278 396,278.5L404,279.5Q408,280 404.9,282.6L381.1,302.4Q378,305 374.1,303.9Z" fill="#fff"/><ellipse cx="440" cy="292" rx="31.5" ry="18" fill="#27497f"/><ellipse cx="440" cy="292" rx="27" ry="13.5" fill="#42bdd6"/><ellipse cx="434.6" cy="289.3" rx="13.5" ry="6.8" fill="#8be0ee" opacity="0.6"/></g>
<rect x="48.1" y="508.5" width="117.89999999999999" height="88.39999999999999" fill="url(#tbg)" stroke="#5a5a5c" stroke-width="2.2"/>
<g transform="translate(47 507.09999999999997) scale(0.17647)"><ellipse cx="300" cy="450" rx="240" ry="22" fill="#d4d4d4" opacity="0.28"/><polyline points="60,95 60,205" fill="none" stroke="#8e8e8e" stroke-width="3.5" stroke-linecap="round" stroke-linejoin="round"/><polyline points="35,95 95,95 185,70" fill="none" stroke="#8e8e8e" stroke-width="3" stroke-linecap="round" stroke-linejoin="round"/><polyline points="187,70 187,165" fill="none" stroke="#8e8e8e" stroke-width="3" stroke-linecap="round" stroke-linejoin="round"/><polyline points="55,205 60,245 75,330" fill="none" stroke="#c3c3bf" stroke-width="7" stroke-linecap="round" stroke-linejoin="round"/><rect x="25" y="165" width="50" height="40" rx="3" fill="#b1b4b2" stroke="#8f9290" stroke-width="2.5"/><rect x="32" y="172" width="25.0" height="12.8" fill="#5f7166"/><rect x="32" y="187.0" width="36" height="12.0" fill="#a9aaa7"/><path d="M98.2,362.7Q97,360 100,360.1L427,369.9Q430,370 427.8,372.1L392.2,405.9Q390,408 387,408L122,408Q119,408 117.8,405.3Z" fill="#e9e9e6"/><path d="M87,349Q87,346 90,346.1L432,357.9Q435,358 435,361L435,385Q435,388 432,387.9L90,376.1Q87,376 87,373Z" fill="#d9d9d5"/><path d="M87,369Q87,367 89,367.1L433,378.9Q435,379 435,381L435,386Q435,388 433,387.9L89,376.1Q87,376 87,374Z" fill="#b1b1ad"/><path d="M145.8,382.8Q147,380 149.9,380.7L179.1,387.3Q182,388 180.8,390.8L173.2,409.2Q172,412 169.1,411.3L139.9,404.7Q137,404 138.2,401.2Z" fill="#c9c9c5"/><path d="M273.9,362.8Q275,360 277.9,360.7L307.1,367.3Q310,368 309,370.8L301,392.2Q300,395 297.1,394.3L267.9,386.7Q265,386 266.1,383.2Z" fill="#c9c9c5"/><path d="M117,389Q117,386 120,386L392,386Q395,386 395,389L395,411Q395,414 392,414L120,414Q117,414 117,411Z" fill="#e2e2de"/><path d="M117,407Q117,405 119,405L393,405Q395,405 395,407L395,412Q395,414 393,414L119,414Q117,414 117,412Z" fill="#b1b1ad"/><path d="M366.6,364.7Q365,360 369.9,358.8L400.1,351.2Q405,350 408.7,353.4L461.3,401.6Q465,405 467.5,409.3L472.5,417.7Q475,422 470,422.3L430,424.7Q425,425 420.4,423L384.6,407Q380,405 378.4,400.3Z" fill="#d0d0cc"/><ellipse cx="115" cy="402" rx="15" ry="15" fill="#bcbcb8" stroke="#8f8f8c" stroke-width="3"/><ellipse cx="115" cy="402" rx="6" ry="6" fill="#e0e0dc"/><ellipse cx="405" cy="436" rx="17" ry="17" fill="#bcbcb8" stroke="#8f8f8c" stroke-width="3"/><ellipse cx="405" cy="436" rx="6.8" ry="6.8" fill="#e0e0dc"/><ellipse cx="465" cy="420" rx="13" ry="13" fill="#bcbcb8" stroke="#8f8f8c" stroke-width="3"/><ellipse cx="465" cy="420" rx="5.2" ry="5.2" fill="#e0e0dc"/><path d="M82.2,295Q82,292 85,292L97,292Q100,292 100.2,295L101.8,323Q102,326 99,326.3L87,327.7Q84,328 83.8,325Z" fill="#e8b8b0"/><path d="M166.2,310.9Q165,305 171,305.1L434,307.9Q440,308 441.4,313.8L448.6,344.2Q450,350 444,350L181,352Q175,352 173.8,346.1Z" fill="#bcbec1"/><polyline points="200,312 260,345" fill="none" stroke="#7d7f84" stroke-width="5" stroke-linecap="round" stroke-linejoin="round"/><polyline points="300,312 280,348" fill="none" stroke="#8a8c90" stroke-width="5" stroke-linecap="round" stroke-linejoin="round"/><polyline points="350,318 420,342" fill="none" stroke="#e6e6e3" stroke-width="7" stroke-linecap="round" stroke-linejoin="round"/><path d="M589.5,194Q590,190 594,189.6L632,185.4Q636,185 635.4,188.9L622.6,268.1Q622,272 620,275.5L584,338.5Q582,342 581.3,338.1L575.7,303.9Q575,300 575.5,296Z" fill="#ecece8"/><path d="M185.8,251.9Q185,248 189,247.9L331,245.1Q335,245 335,249L335,288Q335,292 331,292.1L199,294.9Q195,295 194.2,291.1Z" fill="#2a2a74"/><path d="M151,286.8Q150,284 153,284L437,286Q440,286 440.6,288.9L444.4,307.1Q445,310 442,310L163,312Q160,312 159,309.2Z" fill="#2a2a74"/><polyline points="215,290 225,255 260,250 300,262" fill="none" stroke="#e9e9ee" stroke-width="7" stroke-linecap="round" stroke-linejoin="round"/><path d="M476.1,274.6Q478,270 482.9,269.3L577.1,255.7Q582,255 580.6,259.8L561.4,327.2Q560,332 555,331.4L463,320.6Q458,320 459.9,315.4Z" fill="#2a2a74"/><path d="M216.9,214.3Q212,208 219.7,205.9L252.3,197.1Q260,195 268,195.6L314,199.4Q322,200 323.8,207.8L326.2,218.2Q328,226 321.1,230L306.9,238Q300,242 292,241.5L243,238.5Q235,238 230.1,231.7Z" fill="url(#trail)" stroke="#a9a79f" stroke-width="2"/><ellipse cx="290" cy="213" rx="23.4" ry="15.3" fill="#27497f"/><ellipse cx="290" cy="213" rx="18.9" ry="10.8" fill="#42bdd6"/><ellipse cx="286.2" cy="210.8" rx="9.5" ry="5.4" fill="#8be0ee" opacity="0.6"/><path d="M455.6,211.7Q450,206 457.9,204.8L512.1,196.2Q520,195 526.8,199.2L545.2,210.8Q552,215 550.5,222.9L547.5,238.1Q546,246 538.1,246.9L502.9,251.1Q495,252 489.4,246.3Z" fill="url(#trail)" stroke="#a9a79f" stroke-width="2"/><ellipse cx="520" cy="216" rx="22" ry="10" fill="#1f2050"/><path d="M58,228Q58,222 61.7,217.3L71.3,204.7Q75,200 80.8,198.4L104.2,191.6Q110,190 116,190L176,190Q182,190 187.1,193.2L208.9,206.8Q214,210 215.9,215.7L224.1,239.3Q226,245 223.6,250.5L217.4,264.5Q215,270 209.4,272.2L165.6,289.8Q160,292 154,292L76,292Q70,292 67.1,286.7L60.9,275.3Q58,270 58,264Z" fill="url(#trail)" stroke="#a9a79f" stroke-width="2"/><ellipse cx="180" cy="230" rx="28.8" ry="19.8" fill="#27497f"/><ellipse cx="180" cy="230" rx="24.3" ry="15.3" fill="#42bdd6"/><ellipse cx="175.1" cy="226.9" rx="12.2" ry="7.7" fill="#8be0ee" opacity="0.6"/><path d="M272.4,296Q268,292 272.6,288.1L325.4,243.9Q330,240 335.5,237.6L394.5,212.4Q400,210 406,210L464,210Q470,210 474,214.5L493,235.5Q497,240 494.5,245.4L484.5,266.6Q482,272 477.1,275.5L444.9,298.5Q440,302 434,302.4L296,311.6Q290,312 285.6,308Z" fill="url(#trail)" stroke="#a9a79f" stroke-width="2"/><path d="M323.7,268.6Q320,270 322.9,267.3L349.1,242.7Q352,240 355.8,238.7L391.2,226.3Q395,225 393.2,228.6L386.8,241.4Q385,245 381.3,246.4Z" fill="#fff"/><ellipse cx="445" cy="238" rx="30.6" ry="19.8" fill="#27497f"/><ellipse cx="445" cy="238" rx="26.1" ry="15.3" fill="#42bdd6"/><ellipse cx="439.8" cy="234.9" rx="13.1" ry="7.7" fill="#8be0ee" opacity="0.6"/></g>
<rect x="284.1" y="508.5" width="117.89999999999999" height="88.39999999999999" fill="url(#tbg)" stroke="#5a5a5c" stroke-width="2.2"/>
<g transform="translate(283 507.09999999999997) scale(0.17647)"><ellipse cx="300" cy="450" rx="230" ry="22" fill="#d4d4d4" opacity="0.28"/><polyline points="65,211 70,251 75,330" fill="none" stroke="#c3c3bf" stroke-width="7" stroke-linecap="round" stroke-linejoin="round"/><rect x="35" y="175" width="50" height="36" rx="3" fill="#b1b4b2" stroke="#8f9290" stroke-width="2.5"/><rect x="42" y="182" width="25.0" height="11.52" fill="#5f7166"/><rect x="42" y="194.8" width="36" height="10.799999999999999" fill="#a9aaa7"/><path d="M93.9,300.7Q80,302 80.3,288L81.5,238.8Q82,218 100,207.7L104,205.3Q122,195 142.8,195.4L162,195.7Q176,196 177.5,209.9L185.4,286Q186,292 180,292.6Z" fill="#d9d8d2" stroke="#b3b2ac" stroke-width="2"/><path d="M89.2,347.7Q88,345 91,345.2L397,369.8Q400,370 397.8,372.1L362.2,405.9Q360,408 357,407.8L113,393.2Q110,393 108.8,390.3Z" fill="#e9e9e6"/><path d="M78,334Q78,331 81,331.2L402,357.8Q405,358 405,361L405,385Q405,388 402,387.8L81,361.2Q78,361 78,358Z" fill="#d9d9d5"/><path d="M78,354Q78,352 80,352.2L403,378.8Q405,379 405,381L405,386Q405,388 403,387.8L80,361.2Q78,361 78,359Z" fill="#b1b1ad"/><path d="M136.8,367.8Q138,365 140.9,365.7L170.1,372.3Q173,373 171.8,375.8L164.2,394.2Q163,397 160.1,396.3L130.9,389.7Q128,389 129.2,386.2Z" fill="#c9c9c5"/><path d="M243.9,362.8Q245,360 247.9,360.7L277.1,367.3Q280,368 279,370.8L271,392.2Q270,395 267.1,394.3L237.9,386.7Q235,386 236.1,383.2Z" fill="#c9c9c5"/><path d="M108,374Q108,371 111,371.2L362,385.8Q365,386 365,389L365,411Q365,414 362,413.8L111,399.2Q108,399 108,396Z" fill="#e2e2de"/><path d="M108,392Q108,390 110,390.1L363,404.9Q365,405 365,407L365,412Q365,414 363,413.9L110,399.1Q108,399 108,397Z" fill="#b1b1ad"/><path d="M336.6,364.7Q335,360 339.9,358.8L370.1,351.2Q375,350 378.7,353.4L431.3,401.6Q435,405 437.5,409.3L442.5,417.7Q445,422 440,422.3L400,424.7Q395,425 390.4,423L354.6,407Q350,405 348.4,400.3Z" fill="#d0d0cc"/><ellipse cx="115" cy="402" rx="15" ry="15" fill="#bcbcb8" stroke="#8f8f8c" stroke-width="3"/><ellipse cx="115" cy="402" rx="6" ry="6" fill="#e0e0dc"/><ellipse cx="410" cy="432" rx="17" ry="17" fill="#bcbcb8" stroke="#8f8f8c" stroke-width="3"/><ellipse cx="410" cy="432" rx="6.8" ry="6.8" fill="#e0e0dc"/><path d="M200.5,273Q200,265 208,265.2L422,269.8Q430,270 431.1,277.9L438.9,332.1Q440,340 432,340.1L213,341.9Q205,342 204.5,334Z" fill="#b0b2b6"/><polyline points="223.4,287 274,324.4" fill="none" stroke="#7f8186" stroke-width="5" stroke-linecap="round" stroke-linejoin="round"/><polyline points="269.4,283.6 331.5,300.6" fill="none" stroke="#e4e4e1" stroke-width="7" stroke-linecap="round" stroke-linejoin="round"/><polyline points="308.5,317.6 377.5,307.4" fill="none" stroke="#8a8c90" stroke-width="5" stroke-linecap="round" stroke-linejoin="round"/><ellipse cx="297" cy="307.4" rx="11.5" ry="9.5" fill="#6d6f74"/><ellipse cx="347.6" cy="293.8" rx="13.8" ry="10.9" fill="#dcdcd9"/><polyline points="389,283.6 416.6,327.8" fill="none" stroke="#dadad6" stroke-width="8" stroke-linecap="round" stroke-linejoin="round"/><polyline points="215,250 190,335" fill="none" stroke="#cfcfcb" stroke-width="10" stroke-linecap="round" stroke-linejoin="round"/><path d="M434.6,222.6Q430,216 437.9,214.8L492.1,206.2Q500,205 503.5,212.2L513.5,232.8Q517,240 509.6,243L469.4,259Q462,262 457.4,255.4Z" fill="url(#trail)" stroke="#a9a79f" stroke-width="2"/><ellipse cx="480" cy="226" rx="24" ry="11" fill="#1f2050" transform="rotate(-5 480 226)"/><path d="M302,133Q298,126 305.2,122.4L323.4,113.3Q330,110 337.2,111.8L338.8,112.2Q346,114 350,120.2L397.6,193.3Q402,200 395.2,204.2L362.8,223.8Q356,228 352,221Z" fill="url(#trail)" stroke="#a9a79f" stroke-width="2"/><path d="M319.8,134.4Q318,132 320.5,130.4L331.5,123.6Q334,122 335.7,124.5L366.3,169.5Q368,172 365.4,173.6L357.6,178.4Q355,180 353.2,177.6Z" fill="#fff"/><ellipse cx="367" cy="197" rx="16.2" ry="20.7" fill="#27497f" transform="rotate(35 367 197)"/><ellipse cx="367" cy="197" rx="11.7" ry="16.2" fill="#42bdd6" transform="rotate(35 367 197)"/><ellipse cx="364.7" cy="193.8" rx="5.9" ry="8.1" fill="#8be0ee" transform="rotate(35 364.7 193.8)" opacity="0.6"/><path d="M233.8,128.6Q232,125 236,125.2L296,127.8Q300,128 301.8,131.6L350.2,226.4Q352,230 351.1,233.9L345.9,258.1Q345,262 341,261.7L244,255.3Q240,255 243.8,253.9L286.2,241.1Q290,240 288.2,236.4Z" fill="#2a2a74"/><path d="M167.4,158.7Q163,152 169.2,147L208.8,115Q215,110 222.9,111.2L234.1,112.8Q242,114 247.3,120L326.7,209Q332,215 327,221.2L307,245.8Q302,252 294,251.5L233,247.5Q225,247 220.6,240.3Z" fill="url(#trail)" stroke="#a9a79f" stroke-width="2"/><path d="M195.2,152.4Q192,150 195.1,147.4L214.9,130.6Q218,128 220.6,131L243.4,157Q246,160 242.4,161.8L225.6,170.2Q222,172 218.8,169.6Z" fill="#fff"/><ellipse cx="280" cy="207" rx="20.7" ry="25.2" fill="#27497f" transform="rotate(35 280 207)"/><ellipse cx="280" cy="207" rx="16.2" ry="20.7" fill="#42bdd6" transform="rotate(35 280 207)"/><ellipse cx="276.8" cy="202.9" rx="8.1" ry="10.3" fill="#8be0ee" transform="rotate(35 276.8 202.9)" opacity="0.6"/><path d="M431.9,332.9Q428,332 430.5,335.1L497.5,418.9Q500,422 503.7,420.4L578.3,387.6Q582,386 580.7,382.2L577.3,371.8Q576,368 572.1,367.1Z" fill="#ecebe6"/><path d="M438.8,295.9Q440,290 445.1,286.8L476.9,267.2Q482,264 485.8,268.6L568.2,369.4Q572,374 566.8,376.9L505.2,411.1Q500,414 496.2,409.3L435.8,334.7Q432,330 433.2,324.1Z" fill="#2a2a74"/><path d="M255.4,298.7Q248,292 256.5,286.7L331.5,240.3Q340,235 349.5,231.9L376.5,223.1Q386,220 396,220.8L436,224.2Q446,225 447.6,234.9L450.4,252.1Q452,262 445.8,269.8L426.2,294.2Q420,302 410,302.7L280,311.3Q270,312 262.6,305.3Z" fill="url(#trail)" stroke="#a9a79f" stroke-width="2"/><ellipse cx="405" cy="243" rx="28.8" ry="18" fill="#27497f" transform="rotate(-5 405 243)"/><ellipse cx="405" cy="243" rx="24.3" ry="13.5" fill="#42bdd6" transform="rotate(-5 405 243)"/><ellipse cx="400.1" cy="240.3" rx="12.2" ry="6.8" fill="#8be0ee" transform="rotate(-5 400.1 240.3)" opacity="0.6"/><polyline points="152,140 186,180" fill="none" stroke="#d8453c" stroke-width="10" stroke-linecap="butt" stroke-linejoin="round"/></g>
<rect x="520.1" y="508.5" width="117.89999999999999" height="88.39999999999999" fill="url(#tbg)" stroke="#5a5a5c" stroke-width="2.2"/>
<g transform="translate(519 507.09999999999997) scale(0.17647)"><ellipse cx="360" cy="480" rx="200" ry="18" fill="#d4d4d4" opacity="0.28"/><polyline points="150.6,239 153.2,279 150,300" fill="none" stroke="#c3c3bf" stroke-width="7" stroke-linecap="round" stroke-linejoin="round"/><rect x="135" y="215" width="26" height="24" rx="3" fill="#b1b4b2" stroke="#8f9290" stroke-width="2.5"/><rect x="142" y="222" width="13.0" height="7.68" fill="#5f7166"/><rect x="142" y="228.2" width="12" height="7.199999999999999" fill="#a9aaa7"/><path d="M166,300Q152,300 153.2,286.1L154.2,275.2Q156,255 174.5,246.6L180.2,244Q200,235 221.5,238.5L248.2,242.8Q262,245 264.5,258.8L270.9,294.1Q272,300 266,300Z" fill="#d9d8d2" stroke="#b3b2ac" stroke-width="2"/><path d="M162.7,270Q162,262 169.6,259.5L197.4,250.5Q205,248 212.9,249.3L247.1,254.7Q255,256 256,263.9L259,288.1Q260,296 252,296L173,296Q165,296 164.3,288Z" fill="#e6e5e0"/><path d="M151.1,304.9Q150,300 154.9,300.9L305.1,329.1Q310,330 310.1,335L311.9,405Q312,410 307.4,408L164.6,347Q160,345 158.9,340.1Z" fill="#d5d5d1"/><path d="M175,338Q175,335 177.8,336.1L302.2,383.9Q305,385 305,388L305,397Q305,400 302.2,398.9L177.8,351.1Q175,350 175,347Z" fill="#a9a9a6"/><ellipse cx="185" cy="392" rx="10" ry="10" fill="#bcbcb8" stroke="#8f8f8c" stroke-width="3"/><ellipse cx="185" cy="392" rx="4" ry="4" fill="#e0e0dc"/><polyline points="155,300 165,390" fill="none" stroke="#c9c9c5" stroke-width="8" stroke-linecap="round" stroke-linejoin="round"/><path d="M439,57.9Q438,50 445.9,51.5L462.4,54.6Q470,56 474.5,62.3L475.5,63.7Q480,70 480.8,77.7L487.2,142Q488,150 480.4,152.5L459.6,159.5Q452,162 451,154.1Z" fill="url(#trail)" stroke="#a9a79f" stroke-width="2"/><ellipse cx="466" cy="120" rx="11.7" ry="20.7" fill="#27497f" transform="rotate(-3 466 120)"/><ellipse cx="466" cy="120" rx="7.2" ry="16.2" fill="#42bdd6" transform="rotate(-3 466 120)"/><ellipse cx="464.6" cy="116.8" rx="3.6" ry="8.1" fill="#8be0ee" transform="rotate(-3 464.6 116.8)" opacity="0.6"/><path d="M456,172 C488,185 492,235 468,262" fill="none" stroke="#d2d0c8" stroke-width="9"/><path d="M464.3,287.9Q463,280 470.7,282.1L492.3,287.9Q500,290 501.4,297.9L510.6,352.1Q512,360 504.2,361.8L485.8,366.2Q478,368 476.7,360.1Z" fill="url(#trail)" stroke="#a9a79f" stroke-width="2"/><ellipse cx="487" cy="336" rx="10" ry="14" fill="#1f2050"/><path d="M324.8,43Q325,38 330,38.3L436,44.7Q441,45 441.4,50L471.6,437Q472,442 467,442.3L315,451.7Q310,452 310.2,447Z" fill="#2a2a74"/><path d="M325,167Q325,165 327,164.9L444,160.1Q446,160 446,162L446,193Q446,195 444,195.1L327,199.9Q325,200 325,198Z" fill="#2a66cc"/><path d="M325,167Q325,165 327,164.9L349,164.1Q351,164 351,166L351,197Q351,199 349,199.1L327,199.9Q325,200 325,198Z" fill="#f1f1f3"/><path d="M416,163Q416,161 418,160.9L444,160.1Q446,160 446,162L446,193Q446,195 444,195.1L418,195.9Q416,196 416,194Z" fill="#f1f1f3"/><path d="M338,247Q338,245 340,244.9L449,240.1Q451,240 451,242L451,273Q451,275 449,275.1L340,279.9Q338,280 338,278Z" fill="#2a66cc"/><path d="M338,247Q338,245 340,244.9L362,244.1Q364,244 364,246L364,277Q364,279 362,279.1L340,279.9Q338,280 338,278Z" fill="#f1f1f3"/><path d="M421,243Q421,241 423,240.9L449,240.1Q451,240 451,242L451,273Q451,275 449,275.1L423,275.9Q421,276 421,274Z" fill="#f1f1f3"/><path d="M343,297Q343,295 345,294.9L454,290.1Q456,290 456,292L456,323Q456,325 454,325.1L345,329.9Q343,330 343,328Z" fill="#2a66cc"/><path d="M343,297Q343,295 345,294.9L367,294.1Q369,294 369,296L369,327Q369,329 367,329.1L345,329.9Q343,330 343,328Z" fill="#f1f1f3"/><path d="M426,293Q426,291 428,290.9L454,290.1Q456,290 456,292L456,323Q456,325 454,325.1L428,325.9Q426,326 426,324Z" fill="#f1f1f3"/><path d="M292.6,60Q292,52 299.5,49.3L318.5,42.7Q326,40 326.4,48L331.6,152Q332,160 324.2,161.9L307.8,166.1Q300,168 299.4,160Z" fill="url(#trail)" stroke="#a9a79f" stroke-width="2"/><ellipse cx="314" cy="125" rx="11.7" ry="20.7" fill="#27497f" transform="rotate(3 314 125)"/><ellipse cx="314" cy="125" rx="7.2" ry="16.2" fill="#42bdd6" transform="rotate(3 314 125)"/><ellipse cx="312.6" cy="121.8" rx="3.6" ry="8.1" fill="#8be0ee" transform="rotate(3 312.6 121.8)" opacity="0.6"/><path d="M296.8,188Q296,180 303.9,181.2L322.1,183.8Q330,185 330.4,193L334.6,272Q335,280 327.1,278.7L312.9,276.3Q305,275 304.2,267Z" fill="url(#trail)" stroke="#a9a79f" stroke-width="2"/><path d="M304.1,289.9Q303,282 310.9,283.5L337.1,288.5Q345,290 345.5,298L351.5,384Q352,392 344.4,394.4L327.6,399.6Q320,402 318.9,394.1Z" fill="url(#trail)" stroke="#a9a79f" stroke-width="2"/><ellipse cx="334" cy="350" rx="11.7" ry="20.7" fill="#27497f" transform="rotate(3 334 350)"/><ellipse cx="334" cy="350" rx="7.2" ry="16.2" fill="#42bdd6" transform="rotate(3 334 350)"/><ellipse cx="332.6" cy="346.8" rx="3.6" ry="8.1" fill="#8be0ee" transform="rotate(3 332.6 346.8)" opacity="0.6"/><path d="M313.4,454.2Q310,452 314,451.8L468,442.2Q472,442 475.5,444L518.5,468Q522,470 518,470.6L376,491.4Q372,492 368.6,489.8Z" fill="#e9e9e6"/><polyline points="268,38 288,68" fill="none" stroke="#d8453c" stroke-width="8" stroke-linecap="butt" stroke-linejoin="round"/><polyline points="290,150 300,200" fill="none" stroke="#3a5bbf" stroke-width="5" stroke-linecap="round" stroke-linejoin="round"/></g>
<g id="center"><polygon points="273,394.6 278.2,394.9 280.1,420.5 273.7,421.3" fill="#d4d4cf" stroke="#d4d4cf" stroke-width="1" stroke-linejoin="round"/><polygon points="276.9,394.9 278.2,394.9 280.1,420.5 278.2,420.5" fill="#bdbdb8"/><polygon points="259.6,399.1 265.6,399.4 265.9,405.6 259.9,405.2" fill="#9a9a97"/><polyline points="265.6,401.8 273.3,400.7" fill="none" stroke="#b9b9b5" stroke-width="1.5" stroke-linecap="round" stroke-linejoin="round"/><polygon points="278.2,412.8 360.7,426.6 361,435 278.2,421.4" fill="#d2d2cd" stroke="#d2d2cd" stroke-width="1" stroke-linejoin="round"/><polygon points="278.2,412.8 360.7,426.6 360.9,429.8 278.2,416.2" fill="#e6e6e2" stroke="#e6e6e2" stroke-width="0.6" stroke-linejoin="round"/><polyline points="278.2,421.4 361,435" fill="none" stroke="#b0b0ac" stroke-width="0.9" stroke-linecap="round" stroke-linejoin="round"/><polygon points="283.8,420.8 296.8,423 303.3,429.4 288.7,428.5" fill="#c6c6c1" stroke="#c6c6c1" stroke-width="1" stroke-linejoin="round"/><polygon points="317.8,428.5 330,430.6 327.5,437" fill="#c6c6c1" stroke="#c6c6c1" stroke-width="1" stroke-linejoin="round"/><polygon points="282.7,427.2 340.5,438.3 340.5,445 282.7,433.9" fill="#d0d0cb" stroke="#d0d0cb" stroke-width="1" stroke-linejoin="round"/><polygon points="282.7,427.2 340.5,438.3 340.5,441.2 282.7,430.2" fill="#e4e4e0" stroke="#e4e4e0" stroke-width="0.6" stroke-linejoin="round"/><polyline points="282.7,433.9 340.5,445" fill="none" stroke="#a9a9a5" stroke-width="0.9" stroke-linecap="round" stroke-linejoin="round"/><polygon points="338.1,434.2 349.4,435.8 356.7,447.2 346.1,451.2 339.7,444.7" fill="#cdcdc8" stroke="#cdcdc8" stroke-width="1.5" stroke-linejoin="round"/><polygon points="358.8,410.7 367.2,412.4 369.1,460.9 365.6,460.9 360.7,452" fill="#c9c9c4" stroke="#c9c9c4" stroke-width="1" stroke-linejoin="round"/><polyline points="278.2,431.5 278.2,436.6" fill="none" stroke="#77777a" stroke-width="1.2" stroke-linecap="round" stroke-linejoin="round"/><polyline points="276.2,437.3 280.1,437.3" fill="none" stroke="#4b4b50" stroke-width="1.8" stroke-linecap="round" stroke-linejoin="round"/><polyline points="325.1,430.5 325.1,434.2" fill="none" stroke="#55555a" stroke-width="1.1" stroke-linecap="round" stroke-linejoin="round"/><polyline points="357.1,418 357.1,422.9" fill="none" stroke="#55555a" stroke-width="1.1" stroke-linecap="round" stroke-linejoin="round"/><ellipse cx="274.3" cy="424.6" rx="4.6" ry="4.6" fill="#c1c1bc" stroke="#8f8f8c" stroke-width="0.9"/><ellipse cx="274.3" cy="424.6" rx="2.3" ry="2.3" fill="#dcdcd8" stroke="#a3a3a0" stroke-width="0.5"/><ellipse cx="278.6" cy="424" rx="4.8" ry="4.8" fill="#c1c1bc" stroke="#8f8f8c" stroke-width="0.9"/><ellipse cx="278.6" cy="424" rx="2.4" ry="2.4" fill="#dcdcd8" stroke="#a3a3a0" stroke-width="0.5"/><ellipse cx="350.2" cy="448.3" rx="5.5" ry="5.5" fill="#c1c1bc" stroke="#8f8f8c" stroke-width="0.9"/><ellipse cx="350.2" cy="448.3" rx="2.8" ry="2.8" fill="#dcdcd8" stroke="#a3a3a0" stroke-width="0.5"/><ellipse cx="354.6" cy="447.6" rx="5.8" ry="5.8" fill="#c1c1bc" stroke="#8f8f8c" stroke-width="0.9"/><ellipse cx="354.6" cy="447.6" rx="2.9" ry="2.9" fill="#dcdcd8" stroke="#a3a3a0" stroke-width="0.5"/><polygon points="347,432.1 355,433.1 355,440.7 347.8,439.9" fill="#d9d8ae" stroke="#d9d8ae" stroke-width="1.2" stroke-linejoin="round"/><polyline points="256.5,361 257.5,372 260,388 263.5,403" fill="none" stroke="#c6c6c1" stroke-width="2.2" stroke-linecap="round" stroke-linejoin="round"/><polyline points="257.3,361 258.3,372 260.8,388" fill="none" stroke="#e4e4e0" stroke-width="0.8" stroke-linecap="round" stroke-linejoin="round"/><rect x="249.3" y="347.3" width="15.8" height="14.2" rx="1" fill="#b4b7b5" stroke="#8f9290" stroke-width="0.8"/><rect x="251.3" y="349.5" width="7.5" height="4" fill="#6c8f6a"/><rect x="251.3" y="355" width="11" height="4.2" fill="#aeb0ac"/><rect x="260" y="349.5" width="3" height="4" fill="#a4a6a2"/><polyline points="275,396.3 296,392 315,388" fill="none" stroke="#b9b9b5" stroke-width="2.2" stroke-linecap="round" stroke-linejoin="round"/><polyline points="290,403 345,417" fill="none" stroke="#c2c2be" stroke-width="2.4" stroke-linecap="round" stroke-linejoin="round"/><polygon points="318,404 336,401 340,406 322,410" fill="#c9cbce" stroke="#c9cbce" stroke-width="1" stroke-linejoin="round"/><polyline points="322,407 338,404" fill="none" stroke="#8e9094" stroke-width="1.2" stroke-linecap="round" stroke-linejoin="round"/><polygon points="266.9,390 273.5,391 273.8,398.5 267,398" fill="#e9b6ae"/><polyline points="268,391.5 272,397.5" fill="none" stroke="#d8453c" stroke-width="1.4" stroke-linecap="round" stroke-linejoin="round"/><path d="M355.8,397.2Q354,398 352,397.8L293,393.2Q291,393 291.3,391L294.7,368Q295,366 296,364.3L308,344.7Q309,343 310.7,341.9L333.3,326.6Q335,325.5 336.8,324.7L350.2,318.8Q352,318 353.3,319.5L360.7,328.5Q362,330 362.2,332L366.8,390Q367,392 365.2,392.8Z" fill="#bfc0c4"/><path d="M298.7,397.9Q298,395 300.9,394.4L327.1,389.6Q330,389 332.9,389.7L362.1,397.3Q365,398 365.1,401L365.9,417Q366,420 363,419.8L343,418.2Q340,418 337.1,417.2L320.9,412.8Q318,412 315.3,410.8L302.7,405.2Q300,404 299.3,401.1Z" fill="#d3d4d6"/><polygon points="304.4,402.7 330,400.4 331.9,406.4 306,409.1" fill="#b3b6ba" stroke="#b3b6ba" stroke-width="1" stroke-linejoin="round"/><polyline points="305.4,403.8 330.3,401.5" fill="none" stroke="#e2e4e6" stroke-width="1.1" stroke-linecap="round" stroke-linejoin="round"/><ellipse cx="305" cy="405.9" rx="1.8" ry="3.4" fill="#63656a"/><polygon points="299.2,408.3 310.5,409.9 310.5,416.4 299.5,414.3" fill="#dcdddf" stroke="#dcdddf" stroke-width="1" stroke-linejoin="round"/><polygon points="315.4,410.7 338.1,407.8 352.6,412.4 330,415.9" fill="#c3c5c8" stroke="#c3c5c8" stroke-width="1" stroke-linejoin="round"/><polyline points="310.5,413.2 346.1,407.2" fill="none" stroke="#9fa1a5" stroke-width="1.1" stroke-linecap="round" stroke-linejoin="round"/><polyline points="323.5,410.7 325.9,420.5" fill="none" stroke="#a6a8ab" stroke-width="1.3" stroke-linecap="round" stroke-linejoin="round"/><polyline points="338.1,404.3 365.6,410.7" fill="none" stroke="#e6e7e8" stroke-width="2" stroke-linecap="round" stroke-linejoin="round"/><polyline points="335.6,397.8 359.1,405.9" fill="none" stroke="#9a9ca0" stroke-width="1.2" stroke-linecap="round" stroke-linejoin="round"/><path d="M331.1,392.9Q335,392 338.1,389.5L346.9,382.5Q350,380 354,380L362,380Q366,380 366.3,384L367.7,406Q368,410 364.7,412.2L359.3,415.8Q356,418 352.1,417L343.9,415Q340,414 336.3,412.5L323.7,407.5Q320,406 316.7,403.8L311.3,400.2Q308,398 311.9,397.1Z" fill="#cfd0d1"/><polygon points="288.7,394.9 291.3,390.7 335.7,401.6 335.1,402.6" fill="#2a2f86"/><path d="M292,392.3Q290.5,392 291.3,390.7L300.2,376.3Q301,375 302.4,375.4L350.6,390.6Q352,391 351.5,392.4L347.5,402.6Q347,404 345.5,403.7Z" fill="#d3d1ca"/><polyline points="301,375 352,391" fill="none" stroke="#aeaca5" stroke-width="0.9" stroke-linecap="round" stroke-linejoin="round"/><polyline points="293.1,387.8 348.5,400.1" fill="none" stroke="#e3e1db" stroke-width="1.2" stroke-linecap="round" stroke-linejoin="round"/><polyline points="296.3,382.6 325.7,390.5" fill="none" stroke="#3557b8" stroke-width="1.3" stroke-linecap="round" stroke-linejoin="round"/><ellipse cx="300.6" cy="398.5" rx="2.6" ry="2" fill="#f0f1f4"/><ellipse cx="301.8" cy="399.3" rx="1.5" ry="1.2" fill="#3d63c6"/><polyline points="300.5,376.5 297,384 292.5,390" fill="none" stroke="#2a2f86" stroke-width="4.6" stroke-linecap="round" stroke-linejoin="round"/><path d="M263.8,368.1Q263.8,366 265,364.3L265.3,364Q266.5,362.3 268.5,362.1L274.1,361.4Q276.3,361.2 278.4,361.8L283.9,363.4Q286,364 287.8,365.2L295.2,370.3Q297,371.5 298.3,373.3L299.2,374.7Q300.5,376.5 299.4,378.4L298.9,379.3Q298,381 296.6,382.4L296.4,382.6Q295,384 294.3,385.8L293.3,388Q292.5,390 290.3,389.8L266.2,387.7Q264,387.5 264,385.3Z" fill="url(#railg)" stroke="#b4b2aa" stroke-width="0.6"/><path d="M264,387.5L263.8,368.1Q263.8,366 265,364.3L265.3,364Q266.5,362.3 268.5,362.1L274.1,361.4Q276.3,361.2 278.4,361.8L286,364" fill="none" stroke="#e4e2dc" stroke-width="1.4" stroke-linecap="round" transform="translate(0.8 0.8)"/><path d="M266.9,366.4Q266.9,365.2 268.1,365.1L270.7,364.7Q271.9,364.6 271.9,365.8L272,368.2Q272,369.4 270.8,369.4L268.2,369.4Q267,369.4 267,368.2Z" fill="#fff"/><ellipse cx="288.8" cy="371.9" rx="5.6" ry="8.6" fill="#27497f" transform="rotate(-65 288.8 371.9)"/><ellipse cx="288.8" cy="371.9" rx="4.4" ry="7.4" fill="#42bdd6" transform="rotate(-65 288.8 371.9)"/><ellipse cx="287.9" cy="370" rx="2.4" ry="3.7" fill="#7fdcec" transform="rotate(-65 287.9 370)" opacity="0.4"/><polygon points="291,368.8 294.6,365.5 334.7,394.1 333.8,394.9" fill="#2a2f86"/><path d="M294.7,367.3Q293.5,366.5 294.6,365.5L307.9,353Q309,352 310.2,352.9L353.8,388.1Q355,389 354,390.2L346,399.8Q345,401 343.8,400.2Z" fill="#d3d1ca"/><polyline points="309,352 355,389" fill="none" stroke="#aeaca5" stroke-width="0.9" stroke-linecap="round" stroke-linejoin="round"/><polyline points="297.4,362.9 348,397.4" fill="none" stroke="#e3e1db" stroke-width="1.2" stroke-linecap="round" stroke-linejoin="round"/><polyline points="302,358.5 328.7,378.3" fill="none" stroke="#3557b8" stroke-width="1.3" stroke-linecap="round" stroke-linejoin="round"/><ellipse cx="301.5" cy="377.2" rx="2.6" ry="2" fill="#f0f1f4"/><ellipse cx="302.7" cy="378" rx="1.5" ry="1.2" fill="#3d63c6"/><polyline points="308.8,351.2 307,356 292.5,365" fill="none" stroke="#2a2f86" stroke-width="4.6" stroke-linecap="round" stroke-linejoin="round"/><path d="M270,347.1Q269.4,345 269.9,342.9L271.4,337.1Q271.9,335 272.7,333L272.9,332.6Q273.8,330.6 275.7,329.7L276.4,329.4Q278.1,328.6 279.8,329.4L280.2,329.6Q281.9,330.4 283.5,331.4L290.6,335.7Q292.5,336.9 294.3,338.2L303.2,344.9Q305,346.2 306.3,348L307.6,349.8Q308.8,351.2 308.2,353L308.1,353.4Q307.5,355.2 305.9,356.2L294.3,363.8Q292.5,365 290.4,364.4L275.9,360.6Q273.8,360 273.1,357.9Z" fill="url(#railg)" stroke="#b4b2aa" stroke-width="0.6"/><path d="M273.8,360L270,347.1Q269.4,345 269.9,342.9L271.4,337.1Q271.9,335 272.7,333L272.9,332.6Q273.8,330.6 275.7,329.7L278.1,328.6" fill="none" stroke="#e4e2dc" stroke-width="1.4" stroke-linecap="round" transform="translate(0.8 0.8)"/><path d="M273.9,334.5Q273.9,333.3 275,332.7L277,331.6Q278.1,331 279.2,331.6L289.4,337Q290.5,337.6 289.3,337.5L275.2,336.5Q274,336.4 274,335.2Z" fill="#fff"/><ellipse cx="298.1" cy="346.6" rx="5.7" ry="8.8" fill="#27497f" transform="rotate(-55 298.1 346.6)"/><ellipse cx="298.1" cy="346.6" rx="4.5" ry="7.6" fill="#42bdd6" transform="rotate(-55 298.1 346.6)"/><ellipse cx="297.2" cy="344.7" rx="2.5" ry="3.8" fill="#7fdcec" transform="rotate(-55 297.2 344.7)" opacity="0.4"/><polygon points="305.8,344.6 309.7,341.6 338.9,386.9 337.9,387.6" fill="#2a2f86"/><path d="M309.3,343.7Q308.5,342.5 309.7,341.6L324.8,329.9Q326,329 326.7,330.3L359.3,386.7Q360,388 358.8,388.9L347.7,397.1Q346.5,398 345.7,396.8Z" fill="#d3d1ca"/><polyline points="326,329 360,388" fill="none" stroke="#aeaca5" stroke-width="0.9" stroke-linecap="round" stroke-linejoin="round"/><polyline points="312.9,339.1 350.6,395" fill="none" stroke="#e3e1db" stroke-width="1.2" stroke-linecap="round" stroke-linejoin="round"/><polyline points="318.1,335.1 337.8,366.7" fill="none" stroke="#3557b8" stroke-width="1.3" stroke-linecap="round" stroke-linejoin="round"/><ellipse cx="313.3" cy="357.5" rx="2.6" ry="2" fill="#f0f1f4"/><ellipse cx="314.5" cy="358.3" rx="1.5" ry="1.2" fill="#3d63c6"/><polyline points="325,326.2 323.8,332.5 307.5,343" fill="none" stroke="#2a2f86" stroke-width="4.6" stroke-linecap="round" stroke-linejoin="round"/><polygon points="322,319.5 330.5,321 331,327 324.5,327" fill="#2a2a74"/><path d="M284.4,311.8Q283.1,310 284.1,308L286.5,303.2Q287.5,301.2 288.7,299.4L289.4,298.3Q290.6,296.5 292.8,296.1L294.8,295.7Q296.6,295.4 298.1,296.3L298.5,296.6Q300,297.5 301.4,298.6L311.4,306.7Q313.1,308.1 314.3,309.9L323.8,324.4Q325,326.2 324.6,328.4L324.2,330.3Q323.8,332.5 321.9,333.7L309.3,341.8Q307.5,343 306.2,341.2Z" fill="url(#railg)" stroke="#b4b2aa" stroke-width="0.6"/><path d="M307.5,343L284.4,311.8Q283.1,310 284.1,308L286.5,303.2Q287.5,301.2 288.7,299.4L289.4,298.3Q290.6,296.5 292.8,296.1L296.6,295.4" fill="none" stroke="#e4e2dc" stroke-width="1.4" stroke-linecap="round" transform="translate(0.8 0.8)"/><path d="M292.2,300.8Q292.1,299.6 293.2,299.2L295.8,298.5Q296.9,298.1 297.8,298.9L309.3,308.6Q310.2,309.4 309,309.6L304.3,310.2Q303.1,310.4 301.9,310.2L293.7,308.4Q292.5,308.2 292.4,307Z" fill="#fff"/><ellipse cx="315" cy="325" rx="5.8" ry="9" fill="#27497f" transform="rotate(-38 315 325)"/><ellipse cx="315" cy="325" rx="4.6" ry="7.8" fill="#42bdd6" transform="rotate(-38 315 325)"/><ellipse cx="314.1" cy="323.1" rx="2.5" ry="3.9" fill="#7fdcec" transform="rotate(-38 314.1 323.1)" opacity="0.4"/><polygon points="331.4,326.3 335.9,324.4 346.1,383.4 345,383.9" fill="#2a2f86"/><path d="M334.8,326.5Q334.5,325 335.9,324.4L350.6,318.1Q352,317.5 352.3,319L365.7,387.5Q366,389 364.7,389.7L350.3,397.3Q349,398 348.7,396.5Z" fill="#d3d1ca"/><polyline points="352,317.5 366,389" fill="none" stroke="#aeaca5" stroke-width="0.9" stroke-linecap="round" stroke-linejoin="round"/><polyline points="338.9,323.1 354.1,395.3" fill="none" stroke="#e3e1db" stroke-width="1.2" stroke-linecap="round" stroke-linejoin="round"/><polyline points="344.1,320.9 351.9,360.6" fill="none" stroke="#3557b8" stroke-width="1.3" stroke-linecap="round" stroke-linejoin="round"/><ellipse cx="333.6" cy="342.8" rx="2.6" ry="2" fill="#f0f1f4"/><ellipse cx="334.8" cy="343.6" rx="1.5" ry="1.2" fill="#3d63c6"/><polyline points="350.2,319 347,324.5 339,325 324.4,320.6" fill="none" stroke="#2a2f86" stroke-width="4.6" stroke-linecap="round" stroke-linejoin="round"/><polygon points="321.5,281 347,281 348,314 343.5,299 333,282.6" fill="#2a2a74"/><path d="M308.4,285Q307.5,283 309.1,281.5L314,276.5Q315.6,275 317.3,273.6L321.6,270.3Q323,269.2 324.7,269.4L325.1,269.4Q326.8,269.6 327.8,271L328.3,271.7Q329.5,273.5 330.3,275.5L332.4,280.4Q333.2,282.4 334.4,284.3L342.3,296.6Q343.5,298.5 344.3,300.5L348.6,311.2Q349.4,313.2 349.7,315.4L349.9,317.1Q350.2,319 349.7,320.8L349.3,321.9Q349,323 348.1,323.7L347.9,323.8Q347,324.5 345.9,324.6L341.2,324.9Q339,325 336.9,324.4L326.5,321.2Q324.4,320.6 323,318.9L322.1,317.9Q320.7,316.2 319.9,314.1L314.8,300.6Q314,298.5 313.1,296.5Z" fill="url(#railg)" stroke="#b4b2aa" stroke-width="0.6"/><path d="M314,298.5L308.4,285Q307.5,283 309.1,281.5L314,276.5Q315.6,275 317.3,273.6L321.6,270.3Q323,269.2 324.7,269.4L326.8,269.6" fill="none" stroke="#e4e2dc" stroke-width="1.4" stroke-linecap="round" transform="translate(0.8 0.8)"/><path d="M322.2,275.8Q322,274.6 323.2,274.3L324.8,273.8Q326,273.5 326.6,274.5L327.9,276.5Q328.5,277.5 329.2,278.5L339.1,293.6Q339.8,294.6 338.7,294.2L332.6,292.4Q331.5,292 330.7,291.1L324.4,284.4Q323.6,283.5 323.4,282.3Z" fill="#2a2a74"/><path d="M322.7,275.4Q322.3,274.5 323.3,274.2L325,273.8Q326,273.5 326.5,274.4L327.3,275.7Q327.8,276.6 327.2,277.4L325.2,279.7Q324.6,280.5 324.2,279.6Z" fill="#fff"/><ellipse cx="339.1" cy="309.6" rx="5.8" ry="9.8" fill="#27497f" transform="rotate(-15 339.1 309.6)"/><ellipse cx="339.1" cy="309.6" rx="4.6" ry="8.6" fill="#42bdd6" transform="rotate(-15 339.1 309.6)"/><ellipse cx="338.2" cy="307.5" rx="2.5" ry="4.3" fill="#7fdcec" transform="rotate(-15 338.2 307.5)" opacity="0.4"/><ellipse cx="354" cy="394" rx="9" ry="8" fill="#c4c6c8"/><ellipse cx="354" cy="394" rx="5" ry="4.5" fill="#d7d9da"/><polyline points="266.5,352.8 274.5,357.5" fill="none" stroke="#d8453c" stroke-width="2.4" stroke-linecap="butt" stroke-linejoin="round"/><polyline points="270.5,358 272.3,364.5" fill="none" stroke="#ea7a6c" stroke-width="2" stroke-linecap="butt" stroke-linejoin="round"/><polyline points="279.6,315.2 286,321" fill="none" stroke="#d8453c" stroke-width="2.4" stroke-linecap="butt" stroke-linejoin="round"/><polyline points="281,321.5 283,331" fill="none" stroke="#ea7a6c" stroke-width="2" stroke-linecap="butt" stroke-linejoin="round"/><polyline points="305.2,286.5 309.8,292.3" fill="none" stroke="#d8453c" stroke-width="2.4" stroke-linecap="butt" stroke-linejoin="round"/><polyline points="301.5,291.5 303.6,302.3" fill="none" stroke="#ea7a6c" stroke-width="2" stroke-linecap="butt" stroke-linejoin="round"/><polyline points="342.5,259.5 345.3,267.5" fill="none" stroke="#d8453c" stroke-width="2.4" stroke-linecap="butt" stroke-linejoin="round"/><polyline points="336.6,278 341.5,270.5" fill="none" stroke="#e25a4e" stroke-width="2.2" stroke-linecap="butt" stroke-linejoin="round"/><path d="M402,272.3C402.5,268.4 407.6,270.9 409,270.6C410.4,270.3 411.3,270.2 412.5,270C413.7,269.8 416.8,269.1 418,269.4C419.2,269.7 420.5,269.8 421.3,272.5C422.1,275.2 423.4,284.7 424.3,290C425.2,295.3 427.6,307.9 428.2,312C428.8,316.1 429.2,318.6 429,320.5C428.8,322.4 428,325.2 426.8,326C425.6,326.8 422.4,327 420,326.2C417.6,325.4 411,323.5 409,320C407,316.5 405.9,306.4 405,300C404.1,293.6 401.5,276.2 402,272.3Z" fill="url(#railg)"/><path d="M410.9,275.8Q410.8,274.8 411.8,274.6L418.3,273.3Q419.3,273.1 419.7,274L420.6,276.1Q421,277 421.1,278L422.5,290.8Q422.6,291.8 422.5,292.8L422.1,296.7Q422,297.7 421.4,296.9L416,290.5Q415.4,289.7 414.9,288.8L412.5,284.2Q412,283.3 411.9,282.3Z" fill="#fff"/><ellipse cx="418.8" cy="310" rx="5.4" ry="9.9" fill="#27497f" transform="rotate(-6 418.8 310)"/><ellipse cx="418.8" cy="310" rx="4.3" ry="8.8" fill="#42bdd6" transform="rotate(-6 418.8 310)"/><ellipse cx="417.9" cy="307.8" rx="2.4" ry="4.4" fill="#7fdcec" transform="rotate(-6 417.9 307.8)" opacity="0.4"/><polyline points="406.5,284 407.5,296" fill="none" stroke="#e6e6e2" stroke-width="1.5" stroke-linecap="round" stroke-linejoin="round"/><path d="M409,328.5 C418,330 424.5,342 423.5,356 C423.2,361 420,364.5 414.5,363" fill="none" stroke="#cbc9c1" stroke-width="4.6" stroke-linecap="round"/><path d="M410,327.2 C419,329 425.5,341 425,355" fill="none" stroke="#b5b3ab" stroke-width="0.8"/><path d="M416.5,366C416.8,363.3 417.9,364.8 419,364.8C420.1,364.8 422.8,365 424.5,366C426.2,367 430.2,369.5 432,372C433.8,374.5 436.9,381.3 438,385C439.1,388.7 440,396.4 440.3,400C440.6,403.6 440.6,410.1 440,412C439.4,413.9 438.1,414.4 436,414.5C433.9,414.6 426.3,413.8 424,412.5C421.7,411.2 419.9,408.7 419,405C418.1,401.3 417.3,390.2 417,385C416.7,379.8 416.2,368.7 416.5,366Z" fill="url(#railg)"/><ellipse cx="431.3" cy="399" rx="4.8" ry="7" fill="#2a2a74" transform="rotate(-8 431.3 399)"/><polyline points="418.8,372 420,392" fill="none" stroke="#dfe3ee" stroke-width="1.6" stroke-linecap="round" stroke-linejoin="round"/><polygon points="376,263.3 402.5,272.5 407.5,324 416.5,402.5 421.5,439.5 384,464 373,462.5 369.5,458 366,430 358,262" fill="url(#navg)" stroke="url(#navg)" stroke-width="1" stroke-linejoin="round"/><polygon points="400.5,272 402.8,272.6 421.6,439.5 419.5,441" fill="#1f1f5c"/><polygon points="371,326.8 408.2,323.8 409.3,337.3 372,340.3" fill="#2a66cc"/><polygon points="371,329.8 408.2,326.8 409.3,331.3 372,334.3" fill="#3f82e2" opacity="0.55"/><polygon points="398.8,324.6 406,324 406.8,337.6 399.6,338.1" fill="#f2f2f4"/><polygon points="371,326.8 377.5,326.3 378,339.9 371.5,340.4" fill="#ecebe8"/><polygon points="378.8,366.6 411.4,361.2 412.7,372.6 380,379" fill="#2a66cc"/><polygon points="378.8,369.6 411.4,364.2 412.7,366.6 380,373" fill="#3f82e2" opacity="0.55"/><polygon points="403.8,362.5 411.4,361.2 412.2,372.9 404.6,374.3" fill="#f2f2f4"/><polygon points="378.8,366.6 383.8,365.8 384.3,378.3 379.3,379.2" fill="#ecebe8"/><polygon points="385.5,389 413.8,382.4 416.3,393.8 388.5,400.5" fill="#2a66cc"/><polygon points="385.5,392 413.8,385.4 416.3,387.8 388.5,394.5" fill="#3f82e2" opacity="0.55"/><polygon points="406,384.2 413.8,382.4 414.6,394.4 406.8,396.3" fill="#f2f2f4"/><polygon points="385.5,389 389.5,388.1 390,400.3 386,401.2" fill="#ecebe8"/><path d="M360,330C360.9,325.7 365.8,327.6 368,327.5C370.2,327.4 375.1,326.7 376.5,329C377.9,331.3 378.2,340.2 378.5,345C378.8,349.8 378.6,359.7 379,365C379.4,370.3 380.2,381.1 381.5,385C382.8,388.9 387,390.7 389,394C391,397.3 395,405.9 396.5,410C398,414.1 400.2,421.3 400.3,425C400.4,428.7 398.9,436.1 397.5,437.5C396.1,438.9 394,437.4 390,435.5C386,433.6 371.2,428.4 367.8,423C364.4,417.6 365.3,403.4 364.5,395C363.7,386.6 362.1,368.7 361.5,360C360.9,351.3 359.1,334.3 360,330Z" fill="url(#railg)"/><path d="M360,330C360.9,325.7 365.8,327.6 368,327.5C370.2,327.4 375.1,326.7 376.5,329C377.9,331.3 378.2,340.2 378.5,345C378.8,349.8 378.6,359.7 379,365C379.4,370.3 380.2,381.1 381.5,385C382.8,388.9 387,390.7 389,394C391,397.3 395,405.9 396.5,410C398,414.1 400.2,421.3 400.3,425C400.4,428.7 398.9,436.1 397.5,437.5C396.1,438.9 394,437.4 390,435.5C386,433.6 371.2,428.4 367.8,423C364.4,417.6 365.3,403.4 364.5,395C363.7,386.6 362.1,368.7 361.5,360C360.9,351.3 359.1,334.3 360,330Z" fill="none" stroke="#b2b0a8" stroke-width="0.7"/><path d="M370.1,335.5Q370.2,334 371.1,335.2L374.9,339.8Q375.8,341 375.9,342.5L376.9,362.5Q377,364 376.8,365.5L374.4,380.5Q374.2,382 373.9,380.5L371.1,367.5Q370.8,366 370.7,364.5L369.7,347.5Q369.6,346 369.7,344.5Z" fill="#2a2a74"/><path d="M370.2,335Q370.2,334 370.8,334.8L374.9,340Q375.5,340.8 375.6,341.8L375.7,345Q375.8,346 374.8,346.2L370.8,346.8Q369.8,347 369.8,346Z" fill="#ecebe8"/><path d="M381,387 C388,392 394,405 396,420" fill="none" stroke="#2a2a74" stroke-width="2.3" opacity="0.85"/><ellipse cx="388" cy="420" rx="6.4" ry="10.8" fill="#27497f" transform="rotate(-8 388 420)"/><ellipse cx="388" cy="420" rx="5.2" ry="9.6" fill="#42bdd6" transform="rotate(-8 388 420)"/><ellipse cx="387" cy="417.6" rx="2.9" ry="4.8" fill="#7fdcec" transform="rotate(-8 387 417.6)" opacity="0.4"/><path d="M346.7,265.4Q346.5,263.5 348.1,262.4L348.4,262.1Q350,261 351.8,260.3L352.2,260.2Q354,259.5 355.8,258.9L362.1,256.7Q364,256 366,255.8L368.3,255.6Q370,255.5 371.6,256.2L371.9,256.3Q373.5,257 374.3,258.5L374.5,258.9Q375.3,260.5 375.6,262.2L377,270Q377.4,272 377.7,274L381.5,296.5Q381.8,298.5 382,300.5L383.8,317.2Q384,319 383.8,320.8L383.7,321.5Q383.6,323 382.7,324.2L382.4,324.4Q381.5,325.6 380,325.9L379.2,326.1Q377.4,326.5 375.7,325.7L365.8,321.4Q364,320.6 362.2,319.8L353.9,316.1Q352.4,315.4 351.8,313.9L351.6,313.5Q351,312 350.9,310.4L349.2,292Q349,290 348.8,288Z" fill="url(#railg)" stroke="#b2b0a8" stroke-width="0.6"/><path d="M364.5,261.3Q364.3,260.3 365.3,260.2L369.5,259.6Q370.5,259.5 371.1,260.3L372.2,261.7Q372.8,262.5 373,263.5L374.8,275Q375,276 375.2,277L377.4,291Q377.6,292 377.1,291.1L375,286.9Q374.5,286 373.9,285.2L371.6,281.8Q371,281 370.6,280.1L366.9,271.4Q366.5,270.5 366.3,269.5Z" fill="#2a2a74"/><ellipse cx="373" cy="307.4" rx="6.3" ry="11.7" fill="#27497f" transform="rotate(-5 373 307.4)"/><ellipse cx="373" cy="307.4" rx="5" ry="10.4" fill="#42bdd6" transform="rotate(-5 373 307.4)"/><ellipse cx="372" cy="304.8" rx="2.8" ry="5.2" fill="#7fdcec" transform="rotate(-5 372 304.8)" opacity="0.4"/><polygon points="365,457 370.5,459.5 384,465.5 400.5,480.5 395,481.5 372.5,478 366,470" fill="#cacac5" stroke="#cacac5" stroke-width="1" stroke-linejoin="round"/><polygon points="366,470 372.5,478 395,481.5 394,479 374,475.5 367,466" fill="#a9a9a5"/><polygon points="384.4,466.6 421.9,441.6 449.4,456.6 415.6,489.1 400.6,481.6" fill="#d3d3cf" stroke="#d3d3cf" stroke-width="1" stroke-linejoin="round"/><polygon points="383.8,465 421.3,440 448.8,455 415,487.5 400,480" fill="url(#footg)" stroke="url(#footg)" stroke-width="1" stroke-linejoin="round"/><polygon points="404.5,476 409.5,472.5 411.3,474 406.3,477.5" fill="#7f9a6c"/><path d="M230.6,357 C232.5,336 240,312 256,290 C271,269.5 292,255.5 316,248" fill="none" stroke="#e8893a" stroke-width="3.4"/><polygon points="324.2,246.2 313.6,241 316,253.8" fill="#e8893a" stroke="#e8893a" stroke-width="0.6" stroke-linejoin="round"/><polygon points="230.5,366.5 224.3,354.3 237.2,355.4" fill="#e8893a" stroke="#e8893a" stroke-width="0.6" stroke-linejoin="round"/><text transform="translate(330.6 253.8) scale(1.1 1)" font-family="Liberation Sans, sans-serif" font-weight="bold" font-size="15.6" fill="#7d7d7d">82°</text><text transform="translate(225.8 381.3) scale(1.1 1)" font-family="Liberation Sans, sans-serif" font-weight="bold" font-size="15.6" fill="#7d7d7d">0°</text></g>
<g fill="#444" font-family="'Liberation Sans','Noto Sans CJK SC',sans-serif" font-size="12.6" letter-spacing="1.4">
<text x="59.7" y="644" textLength="194" lengthAdjust="spacing">VitalGo全角度智能病床是全球</text>
<text x="283" y="644" textLength="234" lengthAdjust="spacing">能够实现0°到82°任意角度自由变换的</text>
<text x="547" y="644" textLength="97.5" lengthAdjust="spacing">电动病床，具有</text>
<text x="60.4" y="668">从水平位抬升至完全直立位的功能。</text>
<text x="60.4" y="690.5">兼备独特的承重控制功能，为患者进行渐进式早期活动和康复治疗提供了体验。</text>
<text x="60.4" y="713">能够帮助患者更快恢复，大大缩短住院时间，减少与大多数传统活动治疗相关的患者和医护人</text>
<text x="60.4" y="735.5">员伤害风险。</text>
<circle cx="51.3" cy="640.0" r="1.9"/><circle cx="51.3" cy="686.5" r="1.9"/><circle cx="51.3" cy="708.8" r="1.9"/></g>
</svg>
</body></html>
